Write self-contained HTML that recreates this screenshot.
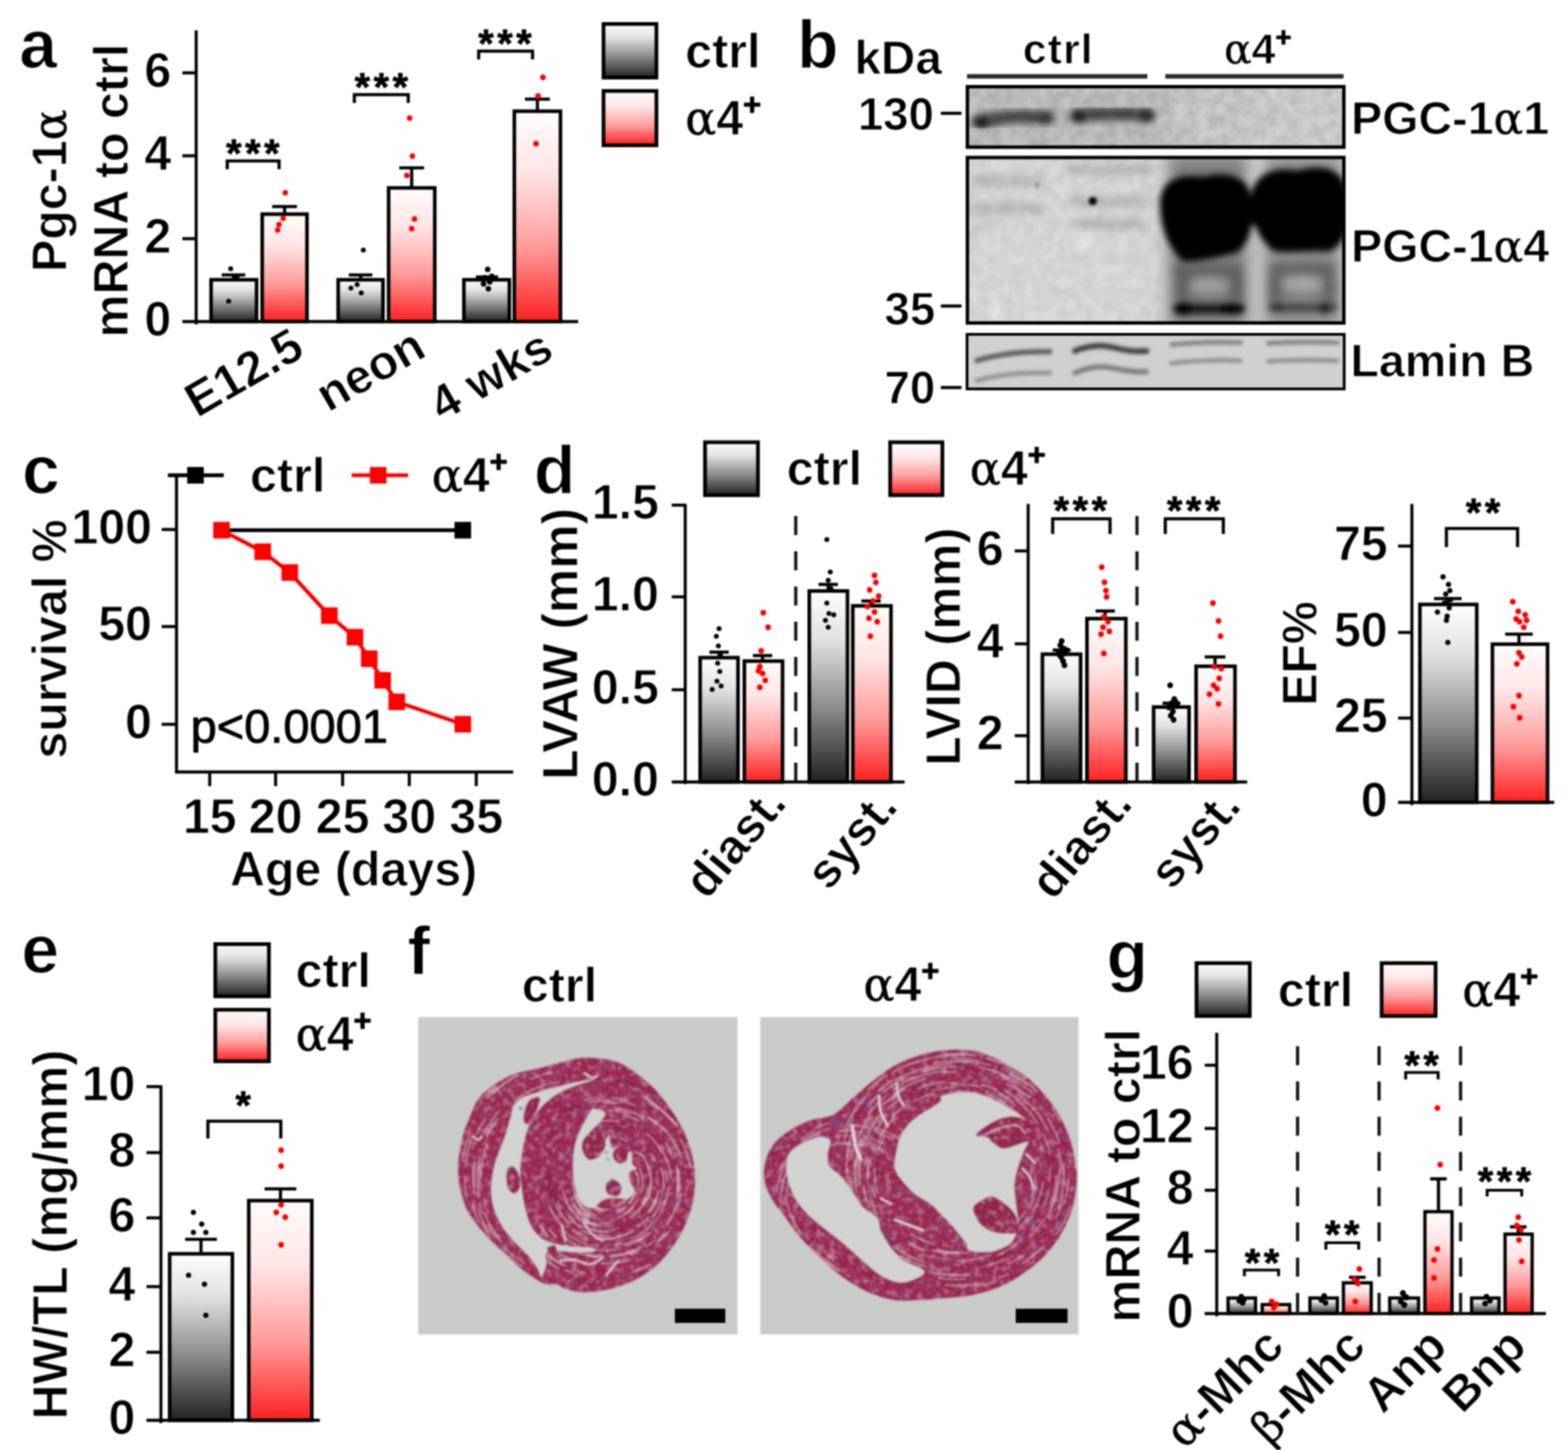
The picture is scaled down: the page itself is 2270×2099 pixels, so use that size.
<!DOCTYPE html>
<html lang="en"><head><meta charset="utf-8"><title>PGC-1α4 figure</title>
<style>
html,body{margin:0;padding:0;background:#fff;}
body{width:2270px;height:2099px;overflow:hidden;}
svg{display:block;filter:blur(0.9px);font-family:"Liberation Sans", Arial, Helvetica, sans-serif;font-weight:bold;fill:#000;}
text{stroke:#fff;stroke-width:1.1px;stroke-linejoin:round;}
text.pl{stroke-width:1.4px;}
</style></head><body>
<svg width="2270" height="2099" viewBox="0 0 2270 2099">
<defs>
<linearGradient id="gk" x1="0" y1="0" x2="0" y2="1"><stop offset="0" stop-color="#fdfdfd"/><stop offset="0.25" stop-color="#e2e2e2"/><stop offset="0.6" stop-color="#8e8e8e"/><stop offset="1" stop-color="#222"/></linearGradient>
<linearGradient id="gr" x1="0" y1="0" x2="0" y2="1"><stop offset="0" stop-color="#fffdfd"/><stop offset="0.3" stop-color="#ffe4e4"/><stop offset="0.65" stop-color="#ff9a9a"/><stop offset="1" stop-color="#ff2020"/></linearGradient>
<filter id="b2" x="-20%" y="-20%" width="140%" height="140%"><feGaussianBlur stdDeviation="2"/></filter>
<filter id="b3" x="-20%" y="-50%" width="140%" height="200%"><feGaussianBlur stdDeviation="2.6"/></filter>
<filter id="b5" x="-20%" y="-30%" width="140%" height="160%"><feGaussianBlur stdDeviation="5"/></filter>
<filter id="b6" x="-20%" y="-80%" width="140%" height="260%"><feGaussianBlur stdDeviation="6"/></filter>
<filter id="grain" x="0" y="0" width="100%" height="100%"><feTurbulence type="fractalNoise" baseFrequency="0.06" numOctaves="2" seed="4"/><feColorMatrix type="matrix" values="0 0 0 0 0  0 0 0 0 0  0 0 0 0 0  2.2 0 0 0 -0.6"/></filter>
<filter id="hb" x="-5%" y="-5%" width="110%" height="110%"><feGaussianBlur stdDeviation="1.1"/></filter>
<filter id="tex1" x="0" y="0" width="100%" height="100%"><feTurbulence type="fractalNoise" baseFrequency="0.22" numOctaves="2" seed="3" result="n"/><feColorMatrix in="n" type="matrix" values="0 0 0 0 0.93  0 0 0 0 0.86  0 0 0 0 0.9  7 0 0 0 -4.1" result="m"/><feComposite in="m" in2="SourceGraphic" operator="in"/></filter>
<filter id="tex2" x="0" y="0" width="100%" height="100%"><feTurbulence type="fractalNoise" baseFrequency="0.05 0.06" numOctaves="3" seed="9" result="n"/><feColorMatrix in="n" type="matrix" values="0 0 0 0 0.31  0 0 0 0 0.06  0 0 0 0 0.19  0 5 0 0 -2.3" result="m"/><feComposite in="m" in2="SourceGraphic" operator="in"/></filter>
<filter id="tex3" x="0" y="0" width="100%" height="100%"><feTurbulence type="fractalNoise" baseFrequency="0.11 0.12" numOctaves="3" seed="17" result="n"/><feColorMatrix in="n" type="matrix" values="0 0 0 0 0.79  0 0 0 0 0.63  0 0 0 0 0.71  0 0 6 0 -3.1" result="m"/><feComposite in="m" in2="SourceGraphic" operator="in"/></filter>
<filter id="b4" x="-20%" y="-50%" width="140%" height="200%"><feGaussianBlur stdDeviation="4"/></filter>
<filter id="b7" x="-20%" y="-30%" width="140%" height="160%"><feGaussianBlur stdDeviation="7"/></filter>
<filter id="b10" x="-20%" y="-30%" width="140%" height="160%"><feGaussianBlur stdDeviation="10"/></filter>
</defs>
<rect width="2270" height="2099" fill="#fff"/>

<g id="panel-a">
<text x="28" y="98" font-size="98" text-anchor="start" font-weight="bold" class="pl">a</text>
<text x="96" y="276" font-size="70" text-anchor="middle" font-weight="bold" transform="rotate(-90 96 276)">Pgc-1<tspan font-family='"DejaVu Serif", "Liberation Serif", serif' font-weight="normal" stroke="#000" stroke-width="0.56" font-size="66.5">α</tspan></text>
<text x="185" y="276" font-size="70" text-anchor="middle" font-weight="bold" transform="rotate(-90 185 276)">mRNA to ctrl</text>
<line x1="284" y1="44" x2="284" y2="469.5" stroke="#000" stroke-width="4.4"/>
<line x1="264" y1="465.5" x2="837" y2="465.5" stroke="#000" stroke-width="4.4"/>
<text x="248" y="485.5" font-size="70" text-anchor="end" font-weight="bold">0</text>
<line x1="264" y1="345.5" x2="284" y2="345.5" stroke="#000" stroke-width="4.4"/>
<text x="248" y="365.5" font-size="70" text-anchor="end" font-weight="bold">2</text>
<line x1="264" y1="225.5" x2="284" y2="225.5" stroke="#000" stroke-width="4.4"/>
<text x="248" y="245.5" font-size="70" text-anchor="end" font-weight="bold">4</text>
<line x1="264" y1="105.5" x2="284" y2="105.5" stroke="#000" stroke-width="4.4"/>
<text x="248" y="125.5" font-size="70" text-anchor="end" font-weight="bold">6</text>
<rect x="305.6" y="405.0" width="65.8" height="60.5" fill="url(#gk)" stroke="#000" stroke-width="5.2"/>
<rect x="379.6" y="310.0" width="64.8" height="155.5" fill="url(#gr)" stroke="#000" stroke-width="5.2"/>
<rect x="489.6" y="405.0" width="64.8" height="60.5" fill="url(#gk)" stroke="#000" stroke-width="5.2"/>
<rect x="562.6" y="272.0" width="66.8" height="193.5" fill="url(#gr)" stroke="#000" stroke-width="5.2"/>
<rect x="671.6" y="405.0" width="65.8" height="60.5" fill="url(#gk)" stroke="#000" stroke-width="5.2"/>
<rect x="744.6" y="161.0" width="66.8" height="304.5" fill="url(#gr)" stroke="#000" stroke-width="5.2"/>
<line x1="338" y1="398" x2="338" y2="405" stroke="#000" stroke-width="4.6"/>
<line x1="321" y1="398" x2="355" y2="398" stroke="#000" stroke-width="4.6"/>
<line x1="412" y1="299" x2="412" y2="310" stroke="#000" stroke-width="4.6"/>
<line x1="394" y1="299" x2="430" y2="299" stroke="#000" stroke-width="4.6"/>
<line x1="522" y1="398" x2="522" y2="405" stroke="#000" stroke-width="4.6"/>
<line x1="505" y1="398" x2="539" y2="398" stroke="#000" stroke-width="4.6"/>
<line x1="596" y1="243" x2="596" y2="272" stroke="#000" stroke-width="4.6"/>
<line x1="578" y1="243" x2="614" y2="243" stroke="#000" stroke-width="4.6"/>
<line x1="705" y1="401" x2="705" y2="405" stroke="#000" stroke-width="4.6"/>
<line x1="689" y1="401" x2="721" y2="401" stroke="#000" stroke-width="4.6"/>
<line x1="778" y1="143.5" x2="778" y2="161" stroke="#000" stroke-width="4.6"/>
<line x1="760" y1="143.5" x2="796" y2="143.5" stroke="#000" stroke-width="4.6"/>
<circle cx="334.0" cy="389.0" r="3.6" fill="#000"/>
<circle cx="331.0" cy="436.0" r="3.6" fill="#000"/>
<circle cx="343.0" cy="401.0" r="3.6" fill="#000"/>
<circle cx="413.0" cy="279.0" r="4" fill="#f00"/>
<circle cx="404.0" cy="325.0" r="4" fill="#f00"/>
<circle cx="402.0" cy="333.0" r="4" fill="#f00"/>
<circle cx="410.0" cy="316.0" r="4" fill="#f00"/>
<circle cx="526.0" cy="362.0" r="3.6" fill="#000"/>
<circle cx="508.0" cy="417.0" r="3.6" fill="#000"/>
<circle cx="523.0" cy="424.0" r="3.6" fill="#000"/>
<circle cx="517.0" cy="412.0" r="3.6" fill="#000"/>
<circle cx="593.0" cy="171.0" r="4" fill="#f00"/>
<circle cx="597.0" cy="226.0" r="4" fill="#f00"/>
<circle cx="589.0" cy="254.0" r="4" fill="#f00"/>
<circle cx="600.0" cy="317.0" r="4" fill="#f00"/>
<circle cx="596.0" cy="331.0" r="4" fill="#f00"/>
<circle cx="706.0" cy="390.0" r="4" fill="#000"/>
<circle cx="702.0" cy="402.0" r="4" fill="#000"/>
<circle cx="709.0" cy="408.0" r="4" fill="#000"/>
<circle cx="700.0" cy="411.0" r="4" fill="#000"/>
<circle cx="712.0" cy="400.0" r="4" fill="#000"/>
<circle cx="707.0" cy="418.0" r="4" fill="#000"/>
<circle cx="786.0" cy="112.0" r="4.2" fill="#f00"/>
<circle cx="779.0" cy="139.0" r="4.2" fill="#f00"/>
<circle cx="776.0" cy="208.0" r="4.2" fill="#f00"/>
<path d="M329 245 V233 H404 V245" fill="none" stroke="#000" stroke-width="4.6"/>
<text x="368.5" y="242" font-size="58" text-anchor="middle" font-weight="bold" letter-spacing="5" style="stroke:#000;stroke-width:0.8px">***</text>
<path d="M513 149 V137 H591 V149" fill="none" stroke="#000" stroke-width="4.6"/>
<text x="554.5" y="146" font-size="58" text-anchor="middle" font-weight="bold" letter-spacing="5" style="stroke:#000;stroke-width:0.8px">***</text>
<path d="M693 86 V74 H771 V86" fill="none" stroke="#000" stroke-width="4.6"/>
<text x="733.5" y="83" font-size="58" text-anchor="middle" font-weight="bold" letter-spacing="5" style="stroke:#000;stroke-width:0.8px">***</text>
<text x="444" y="514" font-size="70" text-anchor="end" font-weight="bold" transform="rotate(-30 444 514)">E12.5</text>
<text x="620" y="514" font-size="70" text-anchor="end" font-weight="bold" transform="rotate(-30 620 514)">neon</text>
<text x="805" y="516" font-size="70" text-anchor="end" font-weight="bold" transform="rotate(-30 805 516)">4 wks</text>
<rect x="873.7" y="34.7" width="76.6" height="77.6" fill="url(#gk)" stroke="#000" stroke-width="5.4"/>
<rect x="873.7" y="131.7" width="76.6" height="78.6" fill="url(#gr)" stroke="#000" stroke-width="5.4"/>
<text x="992" y="97.5" font-size="70" text-anchor="start" font-weight="bold">ctrl</text>
<text x="992" y="195" font-size="70" text-anchor="start" font-weight="bold"><tspan font-family='"DejaVu Serif", "Liberation Serif", serif' font-weight="normal" stroke="#000" stroke-width="0.56" font-size="66.5">α</tspan>4<tspan dy="-28.0" font-size="44.8" style="stroke:#000;stroke-width:1.2px">+</tspan></text>
</g>
<g id="panel-b">
<text x="1154" y="98" font-size="98" text-anchor="start" font-weight="bold" class="pl">b</text>
<text x="1237" y="106.5" font-size="69" text-anchor="start" font-weight="bold">kDa</text>
<text x="1532" y="91.5" font-size="62" text-anchor="middle" font-weight="bold" letter-spacing="1.5">ctrl</text>
<text x="1821" y="91.5" font-size="62" text-anchor="middle" font-weight="bold"><tspan font-family='"DejaVu Serif", "Liberation Serif", serif' font-weight="normal" stroke="#000" stroke-width="0.50" font-size="58.9">α</tspan>4<tspan dy="-24.8" font-size="39.7" style="stroke:#000;stroke-width:1.2px">+</tspan></text>
<line x1="1400" y1="110.5" x2="1661" y2="110.5" stroke="#2a2a2a" stroke-width="6.5"/>
<line x1="1687" y1="110.5" x2="1945" y2="110.5" stroke="#2a2a2a" stroke-width="6.5"/>
<text x="1352" y="188" font-size="66" text-anchor="end" font-weight="bold">130</text>
<line x1="1362" y1="164" x2="1392" y2="164" stroke="#000" stroke-width="4.5"/>
<text x="1354" y="469.5" font-size="66" text-anchor="end" font-weight="bold">35</text>
<line x1="1362" y1="443" x2="1392" y2="443" stroke="#000" stroke-width="4.5"/>
<text x="1354" y="584" font-size="66" text-anchor="end" font-weight="bold">70</text>
<line x1="1362" y1="561" x2="1392" y2="561" stroke="#000" stroke-width="4.5"/>
<text x="1956" y="194" font-size="67.5" text-anchor="start" font-weight="bold">PGC-1<tspan font-family='"DejaVu Serif", "Liberation Serif", serif' font-weight="normal" stroke="#000" stroke-width="0.54" font-size="63.6">α</tspan>1</text>
<text x="1956" y="379" font-size="67.5" text-anchor="start" font-weight="bold">PGC-1<tspan font-family='"DejaVu Serif", "Liberation Serif", serif' font-weight="normal" stroke="#000" stroke-width="0.54" font-size="63.6">α</tspan>4</text>
<text x="1955" y="545" font-size="67.5" text-anchor="start" font-weight="bold">Lamin B</text>
<clipPath id="c1"><rect x="1398" y="123" width="550" height="92"/></clipPath>
<rect x="1398" y="123" width="550" height="92" fill="#c4c4c4"/>
<g clip-path="url(#c1)">
<rect x="1700" y="110" width="270" height="120" fill="#cdcdcd" filter="url(#b10)"/>
<rect x="1820" y="110" width="150" height="120" fill="#d2d2d2" filter="url(#b10)"/>
<g filter="url(#b6)">
<path d="M1416 176 Q1470 166 1518 170" stroke="#5a5a5a" stroke-width="20" fill="none" stroke-linecap="round"/>
<path d="M1558 167 Q1610 163 1662 167" stroke="#5a5a5a" stroke-width="20" fill="none" stroke-linecap="round"/>
</g><g filter="url(#b4)">
<ellipse cx="1422" cy="177" rx="11" ry="8" fill="#222"/><ellipse cx="1512" cy="171" rx="10" ry="7" fill="#3a3a3a"/>
<ellipse cx="1562" cy="168" rx="10" ry="8" fill="#222"/><ellipse cx="1660" cy="167" rx="10" ry="8" fill="#333"/>
<path d="M1432 174 Q1470 167 1505 170 M1572 166 Q1610 163 1650 166" stroke="#444" stroke-width="8" fill="none"/>
</g>
<rect x="1398" y="123" width="550" height="92" filter="url(#grain)" opacity="0.10"/>
</g>
<rect x="1400.5" y="125.5" width="545" height="87.5" fill="none" stroke="#000" stroke-width="5"/>
<clipPath id="c2"><rect x="1398" y="226" width="550" height="243"/></clipPath>
<rect x="1398" y="226" width="550" height="243" fill="#dadada"/>
<g clip-path="url(#c2)">
<g filter="url(#b10)">
<rect x="1680" y="215" width="280" height="270" fill="#c2c2c2"/>
<rect x="1692" y="226" width="114" height="250" fill="#7c7c7c"/>
<rect x="1832" y="226" width="108" height="250" fill="#8a8a8a"/>
<rect x="1810" y="226" width="16" height="60" fill="#d0d0d0"/>
</g>
<g filter="url(#b7)">
<path d="M1408 262 H1512 M1404 302 H1512 M1545 246 H1668 M1550 292 H1665 M1552 325 H1660" stroke="#b4b4b4" stroke-width="13" fill="none"/>
<ellipse cx="1420" cy="330" rx="14" ry="10" fill="#cccccc"/>
<ellipse cx="1570" cy="345" rx="12" ry="12" fill="#ececec"/>
<ellipse cx="1440" cy="455" rx="10" ry="10" fill="#e8e8e8"/>
<path d="M1700 392 H1798 M1838 390 H1932" stroke="#5e5e5e" stroke-width="16" fill="none"/>
<ellipse cx="1750" cy="418" rx="26" ry="16" fill="#a2a2a2"/><ellipse cx="1886" cy="416" rx="26" ry="16" fill="#a8a8a8"/>
<path d="M1712 400 V440 M1790 400 V440 M1846 400 V440 M1924 400 V440" stroke="#5c5c5c" stroke-width="16" fill="none"/>
<path d="M1708 428 H1794 M1844 426 H1928" stroke="#686868" stroke-width="8" fill="none"/>
</g>
<g filter="url(#b5)">
<path d="M1680 305 C1676 268 1696 250 1742 256 C1780 246 1812 258 1811 292 C1815 330 1808 352 1790 366 C1760 372 1735 380 1712 378 C1692 356 1682 335 1680 305 Z" fill="#000"/>
<path d="M1811 292 C1810 256 1838 240 1880 247 C1920 234 1952 250 1952 290 C1954 330 1948 352 1925 364 C1900 362 1870 366 1845 364 C1822 346 1812 322 1811 292 Z" fill="#000"/>
<rect x="1800" y="290" width="22" height="36" fill="#000"/>
<path d="M1708 447 H1796" stroke="#111" stroke-width="13" stroke-linecap="round" fill="none"/>
<ellipse cx="1713" cy="447" rx="14" ry="9" fill="#000"/><ellipse cx="1782" cy="447" rx="15" ry="8" fill="#000"/>
<path d="M1842 445 H1930" stroke="#444" stroke-width="12" stroke-linecap="round" fill="none"/>
<ellipse cx="1918" cy="446" rx="9" ry="8" fill="#222"/><ellipse cx="1850" cy="445" rx="9" ry="7" fill="#333"/>
</g>
<circle cx="1582" cy="291" r="6" fill="#000" filter="url(#b2)"/>
<circle cx="1501" cy="268" r="3.5" fill="#999" filter="url(#b2)"/>
<rect x="1398" y="226" width="282" height="243" filter="url(#grain)" opacity="0.05"/>
</g>
<rect x="1400.5" y="228" width="545" height="239.5" fill="none" stroke="#000" stroke-width="5"/>
<clipPath id="c3"><rect x="1398" y="482" width="550" height="83"/></clipPath>
<rect x="1398" y="482" width="550" height="83" fill="#d0d0d0"/>
<g clip-path="url(#c3)"><g filter="url(#b3)" fill="none" stroke-linecap="round">
<path d="M1414 522 Q1460 508 1520 509" stroke="#555" stroke-width="7"/>
<path d="M1414 551 Q1460 538 1520 540" stroke="#8a8a8a" stroke-width="6"/>
<path d="M1556 508 Q1585 496 1612 503 T1660 508" stroke="#3a3a3a" stroke-width="8"/>
<path d="M1556 540 Q1585 527 1612 533 T1660 538" stroke="#777" stroke-width="7"/>
<path d="M1696 499 Q1740 494 1796 496" stroke="#7a7a7a" stroke-width="6"/>
<path d="M1696 526 Q1740 520 1796 522" stroke="#8a8a8a" stroke-width="6"/>
<path d="M1836 497 Q1880 494 1936 496" stroke="#7a7a7a" stroke-width="6"/>
<path d="M1836 523 Q1880 520 1936 522" stroke="#888" stroke-width="6"/>
</g></g>
<rect x="1400" y="484" width="546" height="79" fill="none" stroke="#000" stroke-width="4"/>
</g>
<g id="panel-c">
<text x="32" y="714" font-size="98" text-anchor="start" font-weight="bold" class="pl">c</text>
<text x="96" y="925" font-size="70" text-anchor="middle" font-weight="bold" transform="rotate(-90 96 925)">survival %</text>
<line x1="255.5" y1="690" x2="255.5" y2="1119.5" stroke="#000" stroke-width="4.4"/>
<line x1="254.0" y1="1117.5" x2="743" y2="1117.5" stroke="#000" stroke-width="4.4"/>
<line x1="234" y1="766.5" x2="255.5" y2="766.5" stroke="#000" stroke-width="4.4"/>
<text x="220" y="786.5" font-size="70" text-anchor="end" font-weight="bold">100</text>
<line x1="234" y1="907" x2="255.5" y2="907" stroke="#000" stroke-width="4.4"/>
<text x="220" y="927" font-size="70" text-anchor="end" font-weight="bold">50</text>
<line x1="234" y1="1048.5" x2="255.5" y2="1048.5" stroke="#000" stroke-width="4.4"/>
<text x="220" y="1068.5" font-size="70" text-anchor="end" font-weight="bold">0</text>
<line x1="303.6" y1="1117.5" x2="303.6" y2="1138" stroke="#000" stroke-width="4.4"/>
<text x="303.6" y="1205.5" font-size="70" text-anchor="middle" font-weight="bold">15</text>
<line x1="399" y1="1117.5" x2="399" y2="1138" stroke="#000" stroke-width="4.4"/>
<text x="399" y="1205.5" font-size="70" text-anchor="middle" font-weight="bold">20</text>
<line x1="496" y1="1117.5" x2="496" y2="1138" stroke="#000" stroke-width="4.4"/>
<text x="496" y="1205.5" font-size="70" text-anchor="middle" font-weight="bold">25</text>
<line x1="592.5" y1="1117.5" x2="592.5" y2="1138" stroke="#000" stroke-width="4.4"/>
<text x="592.5" y="1205.5" font-size="70" text-anchor="middle" font-weight="bold">30</text>
<line x1="689.5" y1="1117.5" x2="689.5" y2="1138" stroke="#000" stroke-width="4.4"/>
<text x="689.5" y="1205.5" font-size="70" text-anchor="middle" font-weight="bold">35</text>
<text x="512" y="1281.5" font-size="70" text-anchor="middle" font-weight="bold">Age (days)</text>
<text x="276" y="1075" font-size="68" text-anchor="start" font-weight="normal" style="stroke:#000;stroke-width:1.2px">p&lt;0.0001</text>
<line x1="243" y1="688" x2="324" y2="688" stroke="#000" stroke-width="5.5"/>
<rect x="271.0" y="676.0" width="24.0" height="24.0" fill="#000" stroke="#000" stroke-width="0"/>
<text x="362" y="711.5" font-size="70" text-anchor="start" font-weight="bold">ctrl</text>
<line x1="509" y1="688" x2="591" y2="688" stroke="#f00" stroke-width="5.5"/>
<rect x="535.5" y="676.0" width="24.0" height="24.0" fill="#f00" stroke="#000" stroke-width="0"/>
<text x="625" y="711.5" font-size="70" text-anchor="start" font-weight="bold"><tspan font-family='"DejaVu Serif", "Liberation Serif", serif' font-weight="normal" stroke="#000" stroke-width="0.56" font-size="66.5">α</tspan>4<tspan dy="-28.0" font-size="44.8" style="stroke:#000;stroke-width:1.2px">+</tspan></text>
<line x1="321" y1="767.5" x2="670" y2="767.5" stroke="#000" stroke-width="5.5"/>
<rect x="658.0" y="755.5" width="24.0" height="24.0" fill="#000" stroke="#000" stroke-width="0"/>
<polyline points="320.7,767.5 380.4,798.7 419.5,828.8 476.8,891.2 513.9,922.4 534.6,953.6 554,984.8 574.4,1016 670,1048.4" fill="none" stroke="#f00" stroke-width="5.5"/>
<rect x="308.7" y="755.5" width="24.0" height="24.0" fill="#f00" stroke="#000" stroke-width="0"/>
<rect x="368.4" y="786.7" width="24.0" height="24.0" fill="#f00" stroke="#000" stroke-width="0"/>
<rect x="407.5" y="816.8" width="24.0" height="24.0" fill="#f00" stroke="#000" stroke-width="0"/>
<rect x="464.8" y="879.2" width="24.0" height="24.0" fill="#f00" stroke="#000" stroke-width="0"/>
<rect x="501.9" y="910.4" width="24.0" height="24.0" fill="#f00" stroke="#000" stroke-width="0"/>
<rect x="522.6" y="941.6" width="24.0" height="24.0" fill="#f00" stroke="#000" stroke-width="0"/>
<rect x="542.0" y="972.8" width="24.0" height="24.0" fill="#f00" stroke="#000" stroke-width="0"/>
<rect x="562.4" y="1004.0" width="24.0" height="24.0" fill="#f00" stroke="#000" stroke-width="0"/>
<rect x="658.0" y="1036.4" width="24.0" height="24.0" fill="#f00" stroke="#000" stroke-width="0"/>
</g>
<g id="panel-d">
<text x="773" y="713.5" font-size="98" text-anchor="start" font-weight="bold" class="pl">d</text>
<rect x="1020.7" y="640.2" width="76.6" height="76.6" fill="url(#gk)" stroke="#000" stroke-width="5.4"/>
<rect x="1288.7" y="640.2" width="75.6" height="76.6" fill="url(#gr)" stroke="#000" stroke-width="5.4"/>
<text x="1139" y="702" font-size="70" text-anchor="start" font-weight="bold">ctrl</text>
<text x="1404" y="702" font-size="70" text-anchor="start" font-weight="bold"><tspan font-family='"DejaVu Serif", "Liberation Serif", serif' font-weight="normal" stroke="#000" stroke-width="0.56" font-size="66.5">α</tspan>4<tspan dy="-28.0" font-size="44.8" style="stroke:#000;stroke-width:1.2px">+</tspan></text>
<text x="836" y="932" font-size="72" text-anchor="middle" font-weight="bold" transform="rotate(-90 836 932)">LVAW (mm)</text>
<line x1="992" y1="729.5" x2="992" y2="1135" stroke="#000" stroke-width="4.4"/>
<line x1="972.5" y1="1132" x2="1309.5" y2="1132" stroke="#000" stroke-width="4.4"/>
<line x1="972.5" y1="731.2" x2="992" y2="731.2" stroke="#000" stroke-width="4.4"/>
<text x="954" y="751.2" font-size="70" text-anchor="end" font-weight="bold">1.5</text>
<line x1="972.5" y1="864" x2="992" y2="864" stroke="#000" stroke-width="4.4"/>
<text x="954" y="884" font-size="70" text-anchor="end" font-weight="bold">1.0</text>
<line x1="972.5" y1="998.5" x2="992" y2="998.5" stroke="#000" stroke-width="4.4"/>
<text x="954" y="1018.5" font-size="70" text-anchor="end" font-weight="bold">0.5</text>
<text x="954" y="1152" font-size="70" text-anchor="end" font-weight="bold">0.0</text>
<rect x="1013.6" y="952.0" width="54.8" height="180.0" fill="url(#gk)" stroke="#000" stroke-width="5.2"/>
<rect x="1077.6" y="957.0" width="55.3" height="175.0" fill="url(#gr)" stroke="#000" stroke-width="5.2"/>
<rect x="1171.6" y="855.5" width="55.3" height="276.5" fill="url(#gk)" stroke="#000" stroke-width="5.2"/>
<rect x="1234.6" y="877.0" width="55.3" height="255.0" fill="url(#gr)" stroke="#000" stroke-width="5.2"/>
<line x1="1152" y1="747" x2="1152" y2="1130" stroke="#111" stroke-width="4.6" stroke-dasharray="27.5 23.5"/>
<line x1="1041" y1="944" x2="1041" y2="952" stroke="#000" stroke-width="4.6"/>
<line x1="1027" y1="944" x2="1055" y2="944" stroke="#000" stroke-width="4.6"/>
<line x1="1104" y1="949" x2="1104" y2="957" stroke="#000" stroke-width="4.6"/>
<line x1="1090" y1="949" x2="1118" y2="949" stroke="#000" stroke-width="4.6"/>
<line x1="1199" y1="846" x2="1199" y2="855" stroke="#000" stroke-width="4.6"/>
<line x1="1185" y1="846" x2="1213" y2="846" stroke="#000" stroke-width="4.6"/>
<line x1="1261" y1="870" x2="1261" y2="877" stroke="#000" stroke-width="4.6"/>
<line x1="1247" y1="870" x2="1275" y2="870" stroke="#000" stroke-width="4.6"/>
<circle cx="1041.0" cy="910.0" r="3.6" fill="#000"/>
<circle cx="1037.0" cy="921.0" r="3.6" fill="#000"/>
<circle cx="1040.0" cy="935.0" r="3.6" fill="#000"/>
<circle cx="1043.0" cy="947.0" r="3.6" fill="#000"/>
<circle cx="1039.0" cy="960.0" r="3.6" fill="#000"/>
<circle cx="1042.0" cy="972.0" r="3.6" fill="#000"/>
<circle cx="1031.0" cy="998.0" r="3.6" fill="#000"/>
<circle cx="1044.0" cy="993.0" r="3.6" fill="#000"/>
<circle cx="1038.0" cy="986.0" r="3.6" fill="#000"/>
<circle cx="1105.0" cy="887.0" r="4.2" fill="#f00"/>
<circle cx="1112.0" cy="908.0" r="4.2" fill="#f00"/>
<circle cx="1102.0" cy="942.0" r="4.2" fill="#f00"/>
<circle cx="1100.0" cy="965.0" r="4.2" fill="#f00"/>
<circle cx="1104.0" cy="975.0" r="4.2" fill="#f00"/>
<circle cx="1108.0" cy="985.0" r="4.2" fill="#f00"/>
<circle cx="1100.0" cy="995.0" r="4.2" fill="#f00"/>
<circle cx="1098.0" cy="971.0" r="4.2" fill="#f00"/>
<circle cx="1197.0" cy="781.0" r="3.6" fill="#000"/>
<circle cx="1202.0" cy="828.0" r="3.6" fill="#000"/>
<circle cx="1199.0" cy="840.0" r="3.6" fill="#000"/>
<circle cx="1203.0" cy="852.0" r="3.6" fill="#000"/>
<circle cx="1197.0" cy="873.0" r="3.6" fill="#000"/>
<circle cx="1200.0" cy="888.0" r="3.6" fill="#000"/>
<circle cx="1195.0" cy="898.0" r="3.6" fill="#000"/>
<circle cx="1199.0" cy="908.0" r="3.6" fill="#000"/>
<circle cx="1207.0" cy="890.0" r="3.6" fill="#000"/>
<circle cx="1266.0" cy="833.0" r="4.2" fill="#f00"/>
<circle cx="1268.0" cy="843.0" r="4.2" fill="#f00"/>
<circle cx="1259.0" cy="854.0" r="4.2" fill="#f00"/>
<circle cx="1272.0" cy="863.0" r="4.2" fill="#f00"/>
<circle cx="1256.0" cy="878.0" r="4.2" fill="#f00"/>
<circle cx="1266.0" cy="886.0" r="4.2" fill="#f00"/>
<circle cx="1258.0" cy="895.0" r="4.2" fill="#f00"/>
<circle cx="1270.0" cy="900.0" r="4.2" fill="#f00"/>
<circle cx="1260.0" cy="921.0" r="4.2" fill="#f00"/>
<circle cx="1264.0" cy="870.0" r="4.2" fill="#f00"/>
<text x="1141" y="1164" font-size="70" text-anchor="end" font-weight="bold" transform="rotate(-50 1141 1164)">diast.</text>
<text x="1302" y="1169" font-size="70" text-anchor="end" font-weight="bold" transform="rotate(-50 1302 1169)">syst.</text>
<text x="1390" y="936" font-size="70" text-anchor="middle" font-weight="bold" transform="rotate(-90 1390 936)">LVID (mm)</text>
<line x1="1488.5" y1="729.5" x2="1488.5" y2="1135" stroke="#000" stroke-width="4.4"/>
<line x1="1469" y1="1132" x2="1805.5" y2="1132" stroke="#000" stroke-width="4.4"/>
<line x1="1469" y1="797.5" x2="1488.5" y2="797.5" stroke="#000" stroke-width="4.4"/>
<text x="1453" y="817.5" font-size="70" text-anchor="end" font-weight="bold">6</text>
<line x1="1469" y1="932" x2="1488.5" y2="932" stroke="#000" stroke-width="4.4"/>
<text x="1453" y="952" font-size="70" text-anchor="end" font-weight="bold">4</text>
<line x1="1469" y1="1065" x2="1488.5" y2="1065" stroke="#000" stroke-width="4.4"/>
<text x="1453" y="1085" font-size="70" text-anchor="end" font-weight="bold">2</text>
<rect x="1509.1" y="947.0" width="55.3" height="185.0" fill="url(#gk)" stroke="#000" stroke-width="5.2"/>
<rect x="1573.6" y="895.5" width="56.3" height="236.5" fill="url(#gr)" stroke="#000" stroke-width="5.2"/>
<rect x="1670.1" y="1023.5" width="51.3" height="108.5" fill="url(#gk)" stroke="#000" stroke-width="5.2"/>
<rect x="1731.6" y="964.5" width="56.3" height="167.5" fill="url(#gr)" stroke="#000" stroke-width="5.2"/>
<line x1="1646" y1="747" x2="1646" y2="1130" stroke="#111" stroke-width="4.6" stroke-dasharray="27.5 23.5"/>
<line x1="1537" y1="941" x2="1537" y2="947" stroke="#000" stroke-width="4.6"/>
<line x1="1524" y1="941" x2="1550" y2="941" stroke="#000" stroke-width="4.6"/>
<line x1="1600" y1="884.5" x2="1600" y2="895.5" stroke="#000" stroke-width="4.6"/>
<line x1="1586" y1="884.5" x2="1614" y2="884.5" stroke="#000" stroke-width="4.6"/>
<line x1="1696" y1="1018" x2="1696" y2="1023.5" stroke="#000" stroke-width="4.6"/>
<line x1="1683" y1="1018" x2="1709" y2="1018" stroke="#000" stroke-width="4.6"/>
<line x1="1759" y1="951" x2="1759" y2="964.5" stroke="#000" stroke-width="4.6"/>
<line x1="1744" y1="951" x2="1774" y2="951" stroke="#000" stroke-width="4.6"/>
<circle cx="1537.0" cy="928.0" r="4.2" fill="#000"/>
<circle cx="1535.0" cy="934.0" r="4.2" fill="#000"/>
<circle cx="1540.0" cy="939.0" r="4.2" fill="#000"/>
<circle cx="1533.0" cy="944.0" r="4.2" fill="#000"/>
<circle cx="1542.0" cy="946.0" r="4.2" fill="#000"/>
<circle cx="1536.0" cy="951.0" r="4.2" fill="#000"/>
<circle cx="1539.0" cy="957.0" r="4.2" fill="#000"/>
<circle cx="1541.0" cy="963.0" r="4.2" fill="#000"/>
<circle cx="1538.0" cy="940.0" r="4.2" fill="#000"/>
<circle cx="1534.0" cy="948.0" r="4.2" fill="#000"/>
<circle cx="1544.0" cy="941.0" r="4.2" fill="#000"/>
<circle cx="1595.0" cy="821.0" r="4.2" fill="#f00"/>
<circle cx="1599.0" cy="843.0" r="4.2" fill="#f00"/>
<circle cx="1601.0" cy="855.0" r="4.2" fill="#f00"/>
<circle cx="1602.0" cy="864.0" r="4.2" fill="#f00"/>
<circle cx="1598.0" cy="893.0" r="4.2" fill="#f00"/>
<circle cx="1604.0" cy="900.0" r="4.2" fill="#f00"/>
<circle cx="1597.0" cy="908.0" r="4.2" fill="#f00"/>
<circle cx="1606.0" cy="914.0" r="4.2" fill="#f00"/>
<circle cx="1594.0" cy="918.0" r="4.2" fill="#f00"/>
<circle cx="1598.0" cy="946.0" r="4.2" fill="#f00"/>
<circle cx="1694.0" cy="992.0" r="4.2" fill="#000"/>
<circle cx="1700.0" cy="1012.0" r="4.2" fill="#000"/>
<circle cx="1696.0" cy="1018.0" r="4.2" fill="#000"/>
<circle cx="1703.0" cy="1022.0" r="4.2" fill="#000"/>
<circle cx="1692.0" cy="1024.0" r="4.2" fill="#000"/>
<circle cx="1698.0" cy="1030.0" r="4.2" fill="#000"/>
<circle cx="1695.0" cy="1036.0" r="4.2" fill="#000"/>
<circle cx="1699.0" cy="1042.0" r="4.2" fill="#000"/>
<circle cx="1702.0" cy="1016.0" r="4.2" fill="#000"/>
<circle cx="1756.0" cy="873.0" r="4.2" fill="#f00"/>
<circle cx="1764.0" cy="899.0" r="4.2" fill="#f00"/>
<circle cx="1767.0" cy="921.0" r="4.2" fill="#f00"/>
<circle cx="1758.0" cy="965.0" r="4.2" fill="#f00"/>
<circle cx="1765.0" cy="982.0" r="4.2" fill="#f00"/>
<circle cx="1757.0" cy="992.0" r="4.2" fill="#f00"/>
<circle cx="1762.0" cy="997.0" r="4.2" fill="#f00"/>
<circle cx="1751.0" cy="1005.0" r="4.2" fill="#f00"/>
<circle cx="1764.0" cy="1019.0" r="4.2" fill="#f00"/>
<circle cx="1768.0" cy="968.0" r="4.2" fill="#f00"/>
<path d="M1524 773 V751 H1607 V773" fill="none" stroke="#000" stroke-width="4.6"/>
<text x="1566.5" y="759" font-size="58" text-anchor="middle" font-weight="bold" letter-spacing="5" style="stroke:#000;stroke-width:0.8px">***</text>
<path d="M1687 773 V751 H1771 V773" fill="none" stroke="#000" stroke-width="4.6"/>
<text x="1730.5" y="759" font-size="58" text-anchor="middle" font-weight="bold" letter-spacing="5" style="stroke:#000;stroke-width:0.8px">***</text>
<text x="1642" y="1165" font-size="70" text-anchor="end" font-weight="bold" transform="rotate(-50 1642 1165)">diast.</text>
<text x="1799" y="1168" font-size="70" text-anchor="end" font-weight="bold" transform="rotate(-50 1799 1168)">syst.</text>
<text x="1906" y="946" font-size="70" text-anchor="middle" font-weight="bold" transform="rotate(-90 1906 946)">EF%</text>
<line x1="2044" y1="729.5" x2="2044" y2="1165.5" stroke="#000" stroke-width="4.4"/>
<line x1="2024" y1="1161.5" x2="2250" y2="1161.5" stroke="#000" stroke-width="4.4"/>
<line x1="2024" y1="790.5" x2="2044" y2="790.5" stroke="#000" stroke-width="4.4"/>
<text x="2009" y="810.5" font-size="70" text-anchor="end" font-weight="bold">75</text>
<line x1="2024" y1="915.5" x2="2044" y2="915.5" stroke="#000" stroke-width="4.4"/>
<text x="2009" y="935.5" font-size="70" text-anchor="end" font-weight="bold">50</text>
<line x1="2024" y1="1039.5" x2="2044" y2="1039.5" stroke="#000" stroke-width="4.4"/>
<text x="2009" y="1059.5" font-size="70" text-anchor="end" font-weight="bold">25</text>
<text x="2009" y="1181.5" font-size="70" text-anchor="end" font-weight="bold">0</text>
<rect x="2055.6" y="875.0" width="82.3" height="286.5" fill="url(#gk)" stroke="#000" stroke-width="5.2"/>
<rect x="2160.6" y="932.5" width="79.8" height="229.0" fill="url(#gr)" stroke="#000" stroke-width="5.2"/>
<line x1="2096" y1="866.5" x2="2096" y2="875" stroke="#000" stroke-width="4.6"/>
<line x1="2076" y1="866.5" x2="2116" y2="866.5" stroke="#000" stroke-width="4.6"/>
<line x1="2199" y1="918" x2="2199" y2="932.5" stroke="#000" stroke-width="4.6"/>
<line x1="2179" y1="918" x2="2219" y2="918" stroke="#000" stroke-width="4.6"/>
<circle cx="2089.0" cy="835.0" r="3.8" fill="#000"/>
<circle cx="2097.0" cy="846.0" r="3.8" fill="#000"/>
<circle cx="2093.0" cy="860.0" r="3.8" fill="#000"/>
<circle cx="2100.0" cy="868.0" r="3.8" fill="#000"/>
<circle cx="2091.0" cy="873.0" r="3.8" fill="#000"/>
<circle cx="2098.0" cy="880.0" r="3.8" fill="#000"/>
<circle cx="2081.0" cy="886.0" r="3.8" fill="#000"/>
<circle cx="2095.0" cy="892.0" r="3.8" fill="#000"/>
<circle cx="2096.0" cy="930.0" r="3.8" fill="#000"/>
<circle cx="2099.0" cy="855.0" r="3.8" fill="#000"/>
<circle cx="2094.0" cy="898.0" r="3.8" fill="#000"/>
<circle cx="2190.0" cy="871.0" r="4.2" fill="#f00"/>
<circle cx="2198.0" cy="885.0" r="4.2" fill="#f00"/>
<circle cx="2195.0" cy="896.0" r="4.2" fill="#f00"/>
<circle cx="2200.0" cy="900.0" r="4.2" fill="#f00"/>
<circle cx="2210.0" cy="898.0" r="4.2" fill="#f00"/>
<circle cx="2206.0" cy="908.0" r="4.2" fill="#f00"/>
<circle cx="2199.0" cy="945.0" r="4.2" fill="#f00"/>
<circle cx="2203.0" cy="951.0" r="4.2" fill="#f00"/>
<circle cx="2196.0" cy="961.0" r="4.2" fill="#f00"/>
<circle cx="2199.0" cy="1007.0" r="4.2" fill="#f00"/>
<circle cx="2191.0" cy="1023.0" r="4.2" fill="#f00"/>
<circle cx="2200.0" cy="1039.0" r="4.2" fill="#f00"/>
<circle cx="2208.0" cy="890.0" r="4.2" fill="#f00"/>
<path d="M2094 792 V765 H2197 V792" fill="none" stroke="#000" stroke-width="4.6"/>
<text x="2149.5" y="762" font-size="58" text-anchor="middle" font-weight="bold" letter-spacing="5" style="stroke:#000;stroke-width:0.8px">**</text>
</g>
<g id="panel-e">
<text x="31" y="1408" font-size="98" text-anchor="start" font-weight="bold" class="pl">e</text>
<rect x="311.7" y="1366.7" width="77.6" height="75.6" fill="url(#gk)" stroke="#000" stroke-width="5.4"/>
<rect x="311.7" y="1461.7" width="77.6" height="74.6" fill="url(#gr)" stroke="#000" stroke-width="5.4"/>
<text x="428" y="1428.5" font-size="70" text-anchor="start" font-weight="bold">ctrl</text>
<text x="428" y="1520.5" font-size="70" text-anchor="start" font-weight="bold"><tspan font-family='"DejaVu Serif", "Liberation Serif", serif' font-weight="normal" stroke="#000" stroke-width="0.56" font-size="66.5">α</tspan>4<tspan dy="-28.0" font-size="44.8" style="stroke:#000;stroke-width:1.2px">+</tspan></text>
<text x="96.5" y="1787" font-size="70" text-anchor="middle" font-weight="bold" transform="rotate(-90 96.5 1787)">HW/TL (mg/mm)</text>
<line x1="233" y1="1571" x2="233" y2="2060" stroke="#000" stroke-width="4.4"/>
<line x1="212" y1="2056" x2="463" y2="2056" stroke="#000" stroke-width="4.4"/>
<line x1="212" y1="1573" x2="233" y2="1573" stroke="#000" stroke-width="4.4"/>
<text x="196" y="1593" font-size="70" text-anchor="end" font-weight="bold">10</text>
<line x1="212" y1="1668.5" x2="233" y2="1668.5" stroke="#000" stroke-width="4.4"/>
<text x="196" y="1688.5" font-size="70" text-anchor="end" font-weight="bold">8</text>
<line x1="212" y1="1763" x2="233" y2="1763" stroke="#000" stroke-width="4.4"/>
<text x="196" y="1783" font-size="70" text-anchor="end" font-weight="bold">6</text>
<line x1="212" y1="1862.5" x2="233" y2="1862.5" stroke="#000" stroke-width="4.4"/>
<text x="196" y="1882.5" font-size="70" text-anchor="end" font-weight="bold">4</text>
<line x1="212" y1="1957.5" x2="233" y2="1957.5" stroke="#000" stroke-width="4.4"/>
<text x="196" y="1977.5" font-size="70" text-anchor="end" font-weight="bold">2</text>
<text x="196" y="2076" font-size="70" text-anchor="end" font-weight="bold">0</text>
<rect x="245.6" y="1815.0" width="90.8" height="241.0" fill="url(#gk)" stroke="#000" stroke-width="5.2"/>
<rect x="360.1" y="1738.0" width="91.3" height="318.0" fill="url(#gr)" stroke="#000" stroke-width="5.2"/>
<line x1="291" y1="1794" x2="291" y2="1815" stroke="#000" stroke-width="4.6"/>
<line x1="268" y1="1794" x2="314" y2="1794" stroke="#000" stroke-width="4.6"/>
<line x1="406" y1="1721" x2="406" y2="1738" stroke="#000" stroke-width="4.6"/>
<line x1="383" y1="1721" x2="429" y2="1721" stroke="#000" stroke-width="4.6"/>
<circle cx="280.0" cy="1755.0" r="3.8" fill="#000"/>
<circle cx="292.0" cy="1772.0" r="3.8" fill="#000"/>
<circle cx="280.0" cy="1784.0" r="3.8" fill="#000"/>
<circle cx="298.0" cy="1784.0" r="3.8" fill="#000"/>
<circle cx="273.0" cy="1846.0" r="3.8" fill="#000"/>
<circle cx="296.0" cy="1859.0" r="3.8" fill="#000"/>
<circle cx="298.0" cy="1904.0" r="3.8" fill="#000"/>
<circle cx="407.0" cy="1665.0" r="4.2" fill="#f00"/>
<circle cx="407.0" cy="1688.0" r="4.2" fill="#f00"/>
<circle cx="407.0" cy="1744.0" r="4.2" fill="#f00"/>
<circle cx="400.0" cy="1755.0" r="4.2" fill="#f00"/>
<circle cx="413.0" cy="1762.0" r="4.2" fill="#f00"/>
<circle cx="407.0" cy="1802.0" r="4.2" fill="#f00"/>
<path d="M301 1648 V1623 H406.5 V1648" fill="none" stroke="#000" stroke-width="4.6"/>
<text x="354.5" y="1620" font-size="58" text-anchor="middle" font-weight="bold" letter-spacing="5" style="stroke:#000;stroke-width:0.8px">*</text>
</g>
<g id="panel-f">
<text x="590" y="1410" font-size="98" text-anchor="start" font-weight="bold" class="pl">f</text>
<text x="810" y="1450" font-size="70" text-anchor="middle" font-weight="bold">ctrl</text>
<text x="1305" y="1449" font-size="70" text-anchor="middle" font-weight="bold"><tspan font-family='"DejaVu Serif", "Liberation Serif", serif' font-weight="normal" stroke="#000" stroke-width="0.56" font-size="66.5">α</tspan>4<tspan dy="-28.0" font-size="44.8" style="stroke:#000;stroke-width:1.2px">+</tspan></text>
<rect x="605" y="1472" width="463" height="460" fill="#c9cbc8"/>
<rect x="1100.5" y="1472" width="461" height="460" fill="#c9cbc8"/>
<rect x="605.5" y="1472.5" width="462" height="459" fill="none" stroke="#dcdedb" stroke-width="1.5"/>
<rect x="1101" y="1472.5" width="460" height="459" fill="none" stroke="#dcdedb" stroke-width="1.5"/>
<clipPath id="h1c"><path d="M857.0 1531.3C866.9 1532.3 882.7 1532.8 895.6 1538.3C908.4 1543.7 922.6 1554.1 934.1 1564.0C945.7 1573.8 955.6 1584.7 965.0 1597.4C974.4 1610.0 984.2 1625.4 990.7 1639.8C997.2 1654.1 1001.6 1669.8 1004.1 1683.5C1006.5 1697.2 1006.8 1709.2 1005.6 1722.0C1004.4 1734.9 1001.7 1747.7 997.1 1760.6C992.5 1773.4 985.3 1787.6 977.8 1799.1C970.3 1810.7 961.6 1821.2 952.1 1830.0C942.7 1838.8 932.9 1845.8 921.3 1851.8C909.7 1857.8 895.6 1862.8 882.7 1866.0C869.9 1869.1 854.9 1870.7 844.2 1870.6C833.5 1870.5 824.9 1867.4 818.5 1865.5C812.1 1863.5 810.3 1859.9 805.6 1858.8C800.9 1857.7 796.6 1860.9 790.2 1858.8C783.8 1856.6 776.1 1852.4 767.1 1845.9C758.1 1839.5 746.9 1830.1 736.2 1820.2C725.5 1810.4 712.7 1798.0 702.8 1786.8C693.0 1775.6 683.3 1764.5 677.1 1752.9C670.9 1741.2 667.8 1728.5 665.5 1716.9C663.3 1705.3 663.0 1695.5 663.7 1683.5C664.5 1671.5 667.3 1655.7 669.9 1644.9C672.6 1634.1 675.9 1627.7 679.7 1618.7C683.5 1609.7 686.5 1599.0 692.5 1590.9C698.5 1582.9 707.1 1576.4 715.7 1570.4C724.2 1564.4 733.2 1558.9 743.9 1555.0C754.7 1551.0 768.4 1549.6 779.9 1546.7C791.5 1543.9 803.9 1540.1 813.3 1537.7C822.8 1535.3 829.2 1533.4 836.5 1532.3C843.8 1531.3 847.2 1530.3 857.0 1531.3Z"/></clipPath>
<g filter="url(#hb)">
<path d="M857.0 1531.3C866.9 1532.3 882.7 1532.8 895.6 1538.3C908.4 1543.7 922.6 1554.1 934.1 1564.0C945.7 1573.8 955.6 1584.7 965.0 1597.4C974.4 1610.0 984.2 1625.4 990.7 1639.8C997.2 1654.1 1001.6 1669.8 1004.1 1683.5C1006.5 1697.2 1006.8 1709.2 1005.6 1722.0C1004.4 1734.9 1001.7 1747.7 997.1 1760.6C992.5 1773.4 985.3 1787.6 977.8 1799.1C970.3 1810.7 961.6 1821.2 952.1 1830.0C942.7 1838.8 932.9 1845.8 921.3 1851.8C909.7 1857.8 895.6 1862.8 882.7 1866.0C869.9 1869.1 854.9 1870.7 844.2 1870.6C833.5 1870.5 824.9 1867.4 818.5 1865.5C812.1 1863.5 810.3 1859.9 805.6 1858.8C800.9 1857.7 796.6 1860.9 790.2 1858.8C783.8 1856.6 776.1 1852.4 767.1 1845.9C758.1 1839.5 746.9 1830.1 736.2 1820.2C725.5 1810.4 712.7 1798.0 702.8 1786.8C693.0 1775.6 683.3 1764.5 677.1 1752.9C670.9 1741.2 667.8 1728.5 665.5 1716.9C663.3 1705.3 663.0 1695.5 663.7 1683.5C664.5 1671.5 667.3 1655.7 669.9 1644.9C672.6 1634.1 675.9 1627.7 679.7 1618.7C683.5 1609.7 686.5 1599.0 692.5 1590.9C698.5 1582.9 707.1 1576.4 715.7 1570.4C724.2 1564.4 733.2 1558.9 743.9 1555.0C754.7 1551.0 768.4 1549.6 779.9 1546.7C791.5 1543.9 803.9 1540.1 813.3 1537.7C822.8 1535.3 829.2 1533.4 836.5 1532.3C843.8 1531.3 847.2 1530.3 857.0 1531.3Z" fill="#98264f"/>
<path d="M857.0 1531.3C866.9 1532.3 882.7 1532.8 895.6 1538.3C908.4 1543.7 922.6 1554.1 934.1 1564.0C945.7 1573.8 955.6 1584.7 965.0 1597.4C974.4 1610.0 984.2 1625.4 990.7 1639.8C997.2 1654.1 1001.6 1669.8 1004.1 1683.5C1006.5 1697.2 1006.8 1709.2 1005.6 1722.0C1004.4 1734.9 1001.7 1747.7 997.1 1760.6C992.5 1773.4 985.3 1787.6 977.8 1799.1C970.3 1810.7 961.6 1821.2 952.1 1830.0C942.7 1838.8 932.9 1845.8 921.3 1851.8C909.7 1857.8 895.6 1862.8 882.7 1866.0C869.9 1869.1 854.9 1870.7 844.2 1870.6C833.5 1870.5 824.9 1867.4 818.5 1865.5C812.1 1863.5 810.3 1859.9 805.6 1858.8C800.9 1857.7 796.6 1860.9 790.2 1858.8C783.8 1856.6 776.1 1852.4 767.1 1845.9C758.1 1839.5 746.9 1830.1 736.2 1820.2C725.5 1810.4 712.7 1798.0 702.8 1786.8C693.0 1775.6 683.3 1764.5 677.1 1752.9C670.9 1741.2 667.8 1728.5 665.5 1716.9C663.3 1705.3 663.0 1695.5 663.7 1683.5C664.5 1671.5 667.3 1655.7 669.9 1644.9C672.6 1634.1 675.9 1627.7 679.7 1618.7C683.5 1609.7 686.5 1599.0 692.5 1590.9C698.5 1582.9 707.1 1576.4 715.7 1570.4C724.2 1564.4 733.2 1558.9 743.9 1555.0C754.7 1551.0 768.4 1549.6 779.9 1546.7C791.5 1543.9 803.9 1540.1 813.3 1537.7C822.8 1535.3 829.2 1533.4 836.5 1532.3C843.8 1531.3 847.2 1530.3 857.0 1531.3Z" fill="#5a1035" filter="url(#tex2)" opacity="0.45"/>
<path d="M857.0 1531.3C866.9 1532.3 882.7 1532.8 895.6 1538.3C908.4 1543.7 922.6 1554.1 934.1 1564.0C945.7 1573.8 955.6 1584.7 965.0 1597.4C974.4 1610.0 984.2 1625.4 990.7 1639.8C997.2 1654.1 1001.6 1669.8 1004.1 1683.5C1006.5 1697.2 1006.8 1709.2 1005.6 1722.0C1004.4 1734.9 1001.7 1747.7 997.1 1760.6C992.5 1773.4 985.3 1787.6 977.8 1799.1C970.3 1810.7 961.6 1821.2 952.1 1830.0C942.7 1838.8 932.9 1845.8 921.3 1851.8C909.7 1857.8 895.6 1862.8 882.7 1866.0C869.9 1869.1 854.9 1870.7 844.2 1870.6C833.5 1870.5 824.9 1867.4 818.5 1865.5C812.1 1863.5 810.3 1859.9 805.6 1858.8C800.9 1857.7 796.6 1860.9 790.2 1858.8C783.8 1856.6 776.1 1852.4 767.1 1845.9C758.1 1839.5 746.9 1830.1 736.2 1820.2C725.5 1810.4 712.7 1798.0 702.8 1786.8C693.0 1775.6 683.3 1764.5 677.1 1752.9C670.9 1741.2 667.8 1728.5 665.5 1716.9C663.3 1705.3 663.0 1695.5 663.7 1683.5C664.5 1671.5 667.3 1655.7 669.9 1644.9C672.6 1634.1 675.9 1627.7 679.7 1618.7C683.5 1609.7 686.5 1599.0 692.5 1590.9C698.5 1582.9 707.1 1576.4 715.7 1570.4C724.2 1564.4 733.2 1558.9 743.9 1555.0C754.7 1551.0 768.4 1549.6 779.9 1546.7C791.5 1543.9 803.9 1540.1 813.3 1537.7C822.8 1535.3 829.2 1533.4 836.5 1532.3C843.8 1531.3 847.2 1530.3 857.0 1531.3Z" fill="#caa2b6" filter="url(#tex3)" opacity="0.34"/>
<path d="M857.0 1531.3C866.9 1532.3 882.7 1532.8 895.6 1538.3C908.4 1543.7 922.6 1554.1 934.1 1564.0C945.7 1573.8 955.6 1584.7 965.0 1597.4C974.4 1610.0 984.2 1625.4 990.7 1639.8C997.2 1654.1 1001.6 1669.8 1004.1 1683.5C1006.5 1697.2 1006.8 1709.2 1005.6 1722.0C1004.4 1734.9 1001.7 1747.7 997.1 1760.6C992.5 1773.4 985.3 1787.6 977.8 1799.1C970.3 1810.7 961.6 1821.2 952.1 1830.0C942.7 1838.8 932.9 1845.8 921.3 1851.8C909.7 1857.8 895.6 1862.8 882.7 1866.0C869.9 1869.1 854.9 1870.7 844.2 1870.6C833.5 1870.5 824.9 1867.4 818.5 1865.5C812.1 1863.5 810.3 1859.9 805.6 1858.8C800.9 1857.7 796.6 1860.9 790.2 1858.8C783.8 1856.6 776.1 1852.4 767.1 1845.9C758.1 1839.5 746.9 1830.1 736.2 1820.2C725.5 1810.4 712.7 1798.0 702.8 1786.8C693.0 1775.6 683.3 1764.5 677.1 1752.9C670.9 1741.2 667.8 1728.5 665.5 1716.9C663.3 1705.3 663.0 1695.5 663.7 1683.5C664.5 1671.5 667.3 1655.7 669.9 1644.9C672.6 1634.1 675.9 1627.7 679.7 1618.7C683.5 1609.7 686.5 1599.0 692.5 1590.9C698.5 1582.9 707.1 1576.4 715.7 1570.4C724.2 1564.4 733.2 1558.9 743.9 1555.0C754.7 1551.0 768.4 1549.6 779.9 1546.7C791.5 1543.9 803.9 1540.1 813.3 1537.7C822.8 1535.3 829.2 1533.4 836.5 1532.3C843.8 1531.3 847.2 1530.3 857.0 1531.3Z" fill="#fff" filter="url(#tex1)" opacity="0.14"/>
<g clip-path="url(#h1c)" fill="none" stroke-linecap="round">
<path d="M950 1764A89 89 0 0 1 919 1791M961 1746A90 90 0 0 1 946 1771M935 1736A62 62 0 0 1 918 1759M887 1589A123 123 0 0 1 910 1593M868 1764A53 53 0 0 1 842 1751M838 1739A48 48 0 0 1 830 1704M948 1796A109 109 0 0 1 935 1805M918 1733A45 45 0 0 1 912 1741M920 1666A63 63 0 0 1 927 1673M968 1719A90 90 0 0 1 956 1756M930 1792A96 96 0 0 1 906 1803M986 1729A110 110 0 0 1 981 1749M755 1786A144 144 0 0 1 737 1743M979 1658A115 115 0 0 1 986 1676M875 1639A73 73 0 0 1 908 1646M849 1790A84 84 0 0 1 829 1780M829 1843A140 140 0 0 1 818 1838M839 1764A65 65 0 0 1 823 1746M1019 1695A142 142 0 0 1 1020 1710M873 1818A107 107 0 0 1 853 1816M926 1691A52 52 0 0 1 928 1727M900 1594A120 120 0 0 1 919 1600M873 1658A54 54 0 0 1 905 1665M928 1747A62 62 0 0 1 912 1763M888 1774A63 63 0 0 1 875 1775M897 1605A108 108 0 0 1 922 1613M928 1670A65 65 0 0 1 942 1706M984 1648A124 124 0 0 1 1000 1690M942 1703A65 65 0 0 1 937 1738M889 1604A108 108 0 0 1 933 1619M925 1668A65 65 0 0 1 941 1696M942 1670A77 77 0 0 1 948 1680M917 1747A53 53 0 0 1 905 1757M979 1688A104 104 0 0 1 982 1714M1012 1750A140 140 0 0 1 999 1782M938 1596A131 131 0 0 1 953 1605M848 1843A135 135 0 0 1 828 1837M886 1774A63 63 0 0 1 849 1768M831 1755A63 63 0 0 1 815 1723M982 1711A104 104 0 0 1 981 1725M841 1742A48 48 0 0 1 833 1729M961 1634A114 114 0 0 1 983 1668M964 1654A103 103 0 0 1 972 1669M873 1596A116 116 0 0 1 893 1597M841 1805A100 100 0 0 1 813 1788M833 1768A72 72 0 0 1 822 1757M912 1683A45 45 0 0 1 922 1701M899 1667A50 50 0 0 1 915 1678M902 1614A101 101 0 0 1 924 1622M769 1788A133 133 0 0 1 752 1755M962 1787A113 113 0 0 1 950 1798M865 1666A47 47 0 0 1 899 1670M790 1785A114 114 0 0 1 783 1775M981 1740A107 107 0 0 1 965 1774M812 1750A76 76 0 0 1 807 1739M892 1809A98 98 0 0 1 850 1806M912 1824A118 118 0 0 1 872 1829M1006 1669A135 135 0 0 1 1013 1707M818 1832A134 134 0 0 1 794 1817M827 1824A123 123 0 0 1 799 1806M982 1692A106 106 0 0 1 983 1724M879 1607A105 105 0 0 1 912 1613M809 1837A143 143 0 0 1 776 1812M890 1793A83 83 0 0 1 861 1793M850 1795A88 88 0 0 1 839 1791M852 1596A119 119 0 0 1 886 1593M937 1641A92 92 0 0 1 958 1667M938 1783A94 94 0 0 1 901 1802M857 1645A69 69 0 0 1 876 1642M938 1618A112 112 0 0 1 951 1628M942 1830A134 134 0 0 1 915 1841M998 1656A133 133 0 0 1 1009 1692M941 1714A64 64 0 0 1 931 1746M812 1830A135 135 0 0 1 790 1815M968 1664A102 102 0 0 1 974 1678M849 1801A93 93 0 0 1 815 1781M793 1790A115 115 0 0 1 781 1774M938 1719A61 61 0 0 1 933 1736M943 1709A65 65 0 0 1 938 1737M960 1668A93 93 0 0 1 971 1705M1018 1731A142 142 0 0 1 1016 1745M856 1754A47 47 0 0 1 848 1748M968 1783A115 115 0 0 1 952 1799M846 1593A123 123 0 0 1 862 1590M857 1625A89 89 0 0 1 895 1624M897 1647A67 67 0 0 1 907 1651M984 1723A107 107 0 0 1 975 1755M859 1819A109 109 0 0 1 817 1803M937 1616A112 112 0 0 1 959 1634M859 1653A62 62 0 0 1 883 1650" stroke="#e2ccd6" stroke-width="1.6" opacity="0.7"/>
<path d="M875 1783A71 71 0 0 1 846 1776M922 1697A47 47 0 0 1 924 1716M851 1762A56 56 0 0 1 830 1742M899 1790A81 81 0 0 1 867 1792M905 1750A47 47 0 0 1 893 1756M980 1694A104 104 0 0 1 979 1733M873 1753A42 42 0 0 1 856 1747M841 1767A66 66 0 0 1 834 1761M849 1740A41 41 0 0 1 838 1721M841 1735A43 43 0 0 1 836 1701M905 1747A44 44 0 0 1 895 1753M882 1771A59 59 0 0 1 868 1770M964 1695A88 88 0 0 1 966 1710M942 1784A97 97 0 0 1 922 1798M917 1782A80 80 0 0 1 896 1790M869 1749A38 38 0 0 1 843 1727M872 1820A109 109 0 0 1 849 1817M870 1774A63 63 0 0 1 842 1764M919 1727A44 44 0 0 1 910 1743M843 1777A74 74 0 0 1 823 1762M859 1745A38 38 0 0 1 845 1731M949 1735A75 75 0 0 1 938 1755M854 1772A65 65 0 0 1 843 1767M953 1725A77 77 0 0 1 941 1755M912 1729A39 39 0 0 1 901 1743M959 1696A83 83 0 0 1 961 1721M923 1736A52 52 0 0 1 909 1753M928 1806A107 107 0 0 1 885 1819M842 1745A48 48 0 0 1 832 1729M863 1760A50 50 0 0 1 835 1739M910 1728A36 36 0 0 1 889 1746M935 1734A61 61 0 0 1 931 1742M881 1751A39 39 0 0 1 849 1738M923 1812A110 110 0 0 1 913 1816M853 1767A60 60 0 0 1 827 1745M957 1739A84 84 0 0 1 944 1763M882 1783A72 72 0 0 1 864 1782M806 1791A107 107 0 0 1 795 1779M842 1757A58 58 0 0 1 830 1744M918 1810A106 106 0 0 1 883 1818M963 1737A89 89 0 0 1 955 1755M872 1766A55 55 0 0 1 845 1756M848 1746A46 46 0 0 1 836 1730M909 1755A54 54 0 0 1 874 1766M883 1789A78 78 0 0 1 844 1782M842 1813A108 108 0 0 1 819 1802M823 1770A80 80 0 0 1 803 1741M939 1762A79 79 0 0 1 923 1776M900 1800A91 91 0 0 1 890 1802M816 1776A89 89 0 0 1 795 1746" stroke="#efe3e8" stroke-width="1.5" opacity="0.7"/>
<path d="M701 1641A145 145 0 0 1 723 1608M708 1823A171 171 0 0 1 694 1805M722 1791A140 140 0 0 1 701 1756M692 1693A139 139 0 0 1 695 1673M687 1728A147 147 0 0 1 686 1682M771 1853A160 160 0 0 1 750 1842M745 1594A140 140 0 0 1 784 1572M713 1583A169 169 0 0 1 750 1556M699 1589A175 175 0 0 1 717 1572M661 1710A171 171 0 0 1 665 1664M675 1731A158 158 0 0 1 673 1703M694 1771A152 152 0 0 1 688 1755M705 1591A169 169 0 0 1 748 1556M669 1682A164 164 0 0 1 681 1639M705 1646A140 140 0 0 1 720 1620M726 1798A141 141 0 0 1 707 1771M687 1718A145 145 0 0 1 688 1682M738 1822A151 151 0 0 1 715 1800M716 1791A144 144 0 0 1 706 1774M756 1833A150 150 0 0 1 725 1809M662 1751A175 175 0 0 1 656 1706M755 1861A174 174 0 0 1 738 1851M717 1580A169 169 0 0 1 750 1556M694 1734A141 141 0 0 1 692 1687M704 1588A172 172 0 0 1 720 1573M668 1756A171 171 0 0 1 661 1712M774 1576A140 140 0 0 1 809 1566M705 1811A165 165 0 0 1 684 1778M676 1669A159 159 0 0 1 685 1643M678 1767A165 165 0 0 1 670 1742M704 1643A141 141 0 0 1 712 1629M760 1829A144 144 0 0 1 730 1806M674 1687A158 158 0 0 1 676 1674M690 1761A153 153 0 0 1 684 1746M785 1579A134 134 0 0 1 800 1574M707 1783A147 147 0 0 1 692 1750M695 1714A137 137 0 0 1 695 1688M771 1863A170 170 0 0 1 746 1851M768 1562A155 155 0 0 1 800 1552M690 1642A154 154 0 0 1 702 1620M696 1704A135 135 0 0 1 705 1657M694 1796A166 166 0 0 1 675 1759M689 1799A171 171 0 0 1 672 1765M710 1791A149 149 0 0 1 698 1771M698 1755A143 143 0 0 1 694 1742" stroke="#e2ccd6" stroke-width="1.7" opacity="0.65"/>
<path d="M896 1771A62 62 0 0 1 867 1773M897 1565A148 148 0 0 1 919 1570M947 1818A127 127 0 0 1 926 1829M975 1638A122 122 0 0 1 993 1674M867 1649A64 64 0 0 1 903 1654M883 1624A88 88 0 0 1 919 1634M809 1618A116 116 0 0 1 837 1603M817 1609A120 120 0 0 1 850 1595M911 1657A64 64 0 0 1 920 1664M806 1722A72 72 0 0 1 806 1700M1020 1654A153 153 0 0 1 1029 1690M932 1842A141 141 0 0 1 917 1847M952 1795A112 112 0 0 1 939 1806M834 1755A61 61 0 0 1 821 1735M946 1691A71 71 0 0 1 949 1707M1011 1712A133 133 0 0 1 1010 1728M763 1639A136 136 0 0 1 777 1621M881 1766A54 54 0 0 1 869 1765M790 1654A105 105 0 0 1 808 1633M997 1738A122 122 0 0 1 987 1765M971 1673A101 101 0 0 1 979 1703M938 1702A61 61 0 0 1 938 1718M747 1764A140 140 0 0 1 743 1751M897 1775A66 66 0 0 1 870 1777M893 1763A53 53 0 0 1 857 1761M932 1634A95 95 0 0 1 954 1655M890 1564A148 148 0 0 1 914 1568M927 1763A71 71 0 0 1 907 1776M937 1661A78 78 0 0 1 943 1670M795 1721A84 84 0 0 1 797 1692M804 1743A80 80 0 0 1 798 1723M802 1695A77 77 0 0 1 807 1681M869 1640A72 72 0 0 1 905 1645M877 1633A79 79 0 0 1 906 1638M915 1571A146 146 0 0 1 955 1588M960 1745A89 89 0 0 1 945 1771M871 1860A148 148 0 0 1 838 1855M970 1609A138 138 0 0 1 988 1629M1021 1754A150 150 0 0 1 1003 1794M805 1754A84 84 0 0 1 795 1726M807 1743A77 77 0 0 1 801 1719M885 1626A86 86 0 0 1 898 1628M903 1779A72 72 0 0 1 890 1783M951 1686A78 78 0 0 1 956 1713M858 1800A91 91 0 0 1 840 1794M957 1671A89 89 0 0 1 963 1684M833 1653A74 74 0 0 1 862 1639M910 1770A66 66 0 0 1 896 1776M943 1810A118 118 0 0 1 922 1821M959 1835A147 147 0 0 1 928 1850" stroke="#651540" stroke-width="2.2" opacity="0.45"/>
</g>
<path d="M860.9 1562.2C861.7 1561.0 840.5 1565.3 831.3 1567.3C822.1 1569.3 814.2 1571.8 805.6 1574.0C797.1 1576.2 788.1 1578.2 779.9 1580.7C771.8 1583.2 762.8 1585.7 756.8 1588.9C750.8 1592.1 746.9 1594.9 743.9 1599.9C740.9 1605.0 740.9 1611.7 738.8 1619.2C736.7 1626.7 734.0 1636.4 731.1 1644.9C728.2 1653.5 724.2 1662.1 721.3 1670.6C718.4 1679.2 715.3 1687.8 713.6 1696.3C711.9 1704.9 710.9 1713.5 711.0 1722.0C711.2 1730.6 711.9 1739.2 714.4 1747.7C716.9 1756.3 721.0 1765.3 725.9 1773.4C730.9 1781.6 737.5 1789.3 743.9 1796.6C750.4 1803.9 758.9 1810.7 764.5 1817.1C770.1 1823.6 774.1 1830.1 777.4 1835.1C780.6 1840.2 781.6 1848.1 783.8 1847.5C786.0 1846.8 789.6 1836.8 790.7 1831.3C791.9 1825.8 788.2 1818.0 790.7 1814.6C793.2 1811.1 798.9 1811.1 805.6 1810.7C812.4 1810.4 822.6 1812.3 831.3 1812.5C840.1 1812.7 853.8 1812.9 858.3 1812.0C862.8 1811.1 862.8 1808.1 858.3 1806.9C853.8 1805.7 840.5 1805.9 831.3 1804.8C822.1 1803.7 811.2 1802.7 803.1 1800.4C794.9 1798.2 788.3 1795.9 782.5 1791.4C776.7 1786.9 772.1 1780.7 768.4 1773.4C764.6 1766.2 762.0 1756.3 759.9 1747.7C757.7 1739.2 756.7 1730.6 755.5 1722.0C754.4 1713.5 752.9 1704.9 752.9 1696.3C752.9 1687.8 754.2 1679.2 755.5 1670.6C756.8 1662.1 758.3 1653.1 760.6 1644.9C763.0 1636.8 765.6 1629.1 769.6 1621.8C773.7 1614.5 779.5 1607.2 785.1 1601.2C790.6 1595.2 796.2 1590.3 803.1 1585.8C809.9 1581.3 816.6 1578.2 826.2 1574.2C835.8 1570.3 860.0 1563.3 860.9 1562.2Z" fill="#d2d3d1"/>
<path d="M858.3 1605.1C862.2 1604.8 874.6 1607.9 876.3 1611.0C878.0 1614.1 871.8 1619.8 868.6 1623.8C865.4 1627.9 860.0 1631.6 857.0 1635.2C854.0 1638.7 850.2 1644.2 850.6 1644.9C851.0 1645.7 856.0 1640.2 859.6 1639.8C863.2 1639.4 869.5 1640.6 872.5 1642.4C875.5 1644.1 876.1 1650.1 877.6 1650.1C879.1 1650.1 880.3 1640.6 881.5 1642.4C882.7 1644.1 882.4 1657.1 884.8 1660.3C887.2 1663.6 891.7 1660.3 895.6 1661.6C899.5 1663.0 905.4 1667.5 908.4 1668.6C911.5 1669.6 912.9 1665.2 914.1 1668.1C915.3 1670.9 914.4 1681.7 915.6 1685.5C916.8 1689.4 922.1 1689.2 921.3 1691.2C920.5 1693.2 912.5 1694.2 911.0 1697.6C909.6 1701.0 911.3 1707.3 912.6 1711.8C913.8 1716.3 919.4 1720.7 918.7 1724.6C918.0 1728.5 913.6 1733.9 908.4 1735.4C903.3 1736.9 893.9 1733.5 887.9 1733.9C881.9 1734.2 877.2 1735.1 872.5 1737.5C867.7 1739.9 863.9 1747.0 859.6 1748.3C855.3 1749.5 850.6 1747.8 846.8 1745.2C842.9 1742.5 839.0 1737.9 836.5 1732.3C833.9 1726.7 832.5 1718.6 831.3 1711.8C830.2 1704.9 829.7 1698.0 829.5 1691.2C829.4 1684.3 829.5 1677.5 830.3 1670.6C831.1 1663.8 832.3 1656.9 834.4 1650.1C836.6 1643.2 840.0 1635.7 843.2 1629.5C846.3 1623.3 850.7 1616.9 853.2 1612.8C855.7 1608.7 854.5 1605.4 858.3 1605.1Z" fill="#d2d3d1"/>
<path d="M767.1 1592.2C770.6 1589.2 779.3 1586.4 781.2 1588.4C783.1 1590.3 780.1 1599.1 778.6 1603.8C777.1 1608.5 774.6 1612.7 772.2 1616.7C769.9 1620.6 766.9 1626.5 764.5 1627.4C762.1 1628.4 758.8 1625.8 758.1 1622.3C757.3 1618.8 758.4 1611.4 759.9 1606.4C761.4 1601.4 763.5 1595.2 767.1 1592.2Z" fill="#93264e"/>
<path d="M767.1 1592.2C770.6 1589.2 779.3 1586.4 781.2 1588.4C783.1 1590.3 780.1 1599.1 778.6 1603.8C777.1 1608.5 774.6 1612.7 772.2 1616.7C769.9 1620.6 766.9 1626.5 764.5 1627.4C762.1 1628.4 758.8 1625.8 758.1 1622.3C757.3 1618.8 758.4 1611.4 759.9 1606.4C761.4 1601.4 763.5 1595.2 767.1 1592.2Z" fill="#caa2b6" filter="url(#tex3)" opacity="0.4"/>
<path d="M735.7 1691.2C737.5 1688.7 741.2 1687.0 743.9 1689.1C746.7 1691.3 750.8 1698.9 752.2 1704.0C753.5 1709.2 753.5 1716.0 752.2 1720.0C750.8 1723.9 746.7 1727.7 743.9 1727.7C741.2 1727.7 737.5 1723.9 735.7 1720.0C733.9 1716.0 733.1 1708.8 733.1 1704.0C733.1 1699.2 733.9 1693.7 735.7 1691.2Z" fill="#93264e"/>
<path d="M735.7 1691.2C737.5 1688.7 741.2 1687.0 743.9 1689.1C746.7 1691.3 750.8 1698.9 752.2 1704.0C753.5 1709.2 753.5 1716.0 752.2 1720.0C750.8 1723.9 746.7 1727.7 743.9 1727.7C741.2 1727.7 737.5 1723.9 735.7 1720.0C733.9 1716.0 733.1 1708.8 733.1 1704.0C733.1 1699.2 733.9 1693.7 735.7 1691.2Z" fill="#caa2b6" filter="url(#tex3)" opacity="0.4"/>
<path d="M847.3 1646.2C850.1 1643.3 855.4 1639.1 859.6 1638.5C863.8 1637.9 869.6 1639.7 872.5 1642.9C875.3 1646.1 877.3 1652.7 876.6 1657.8C875.8 1662.8 871.7 1669.7 867.8 1673.2C864.0 1676.7 857.4 1679.6 853.4 1678.9C849.5 1678.1 846.0 1672.4 844.2 1668.6C842.4 1664.7 842.1 1659.4 842.6 1655.7C843.2 1652.0 844.4 1649.1 847.3 1646.2Z" fill="#93264e"/>
<path d="M847.3 1646.2C850.1 1643.3 855.4 1639.1 859.6 1638.5C863.8 1637.9 869.6 1639.7 872.5 1642.9C875.3 1646.1 877.3 1652.7 876.6 1657.8C875.8 1662.8 871.7 1669.7 867.8 1673.2C864.0 1676.7 857.4 1679.6 853.4 1678.9C849.5 1678.1 846.0 1672.4 844.2 1668.6C842.4 1664.7 842.1 1659.4 842.6 1655.7C843.2 1652.0 844.4 1649.1 847.3 1646.2Z" fill="#caa2b6" filter="url(#tex3)" opacity="0.4"/>
<path d="M888.4 1666.0C890.1 1663.4 894.8 1660.4 898.2 1660.9C901.5 1661.3 907.2 1665.1 908.4 1668.6C909.7 1672.0 908.0 1678.9 905.9 1681.4C903.7 1684.0 898.6 1684.9 895.6 1684.0C892.6 1683.1 889.1 1679.3 887.9 1676.3C886.7 1673.3 886.7 1668.6 888.4 1666.0Z" fill="#93264e"/>
<path d="M888.4 1666.0C890.1 1663.4 894.8 1660.4 898.2 1660.9C901.5 1661.3 907.2 1665.1 908.4 1668.6C909.7 1672.0 908.0 1678.9 905.9 1681.4C903.7 1684.0 898.6 1684.9 895.6 1684.0C892.6 1683.1 889.1 1679.3 887.9 1676.3C886.7 1673.3 886.7 1668.6 888.4 1666.0Z" fill="#caa2b6" filter="url(#tex3)" opacity="0.4"/>
<path d="M878.9 1712.3C881.1 1710.0 887.0 1707.2 890.5 1708.2C893.9 1709.1 898.8 1714.5 899.7 1718.2C900.6 1721.9 898.4 1728.2 895.6 1730.3C892.8 1732.3 885.8 1731.6 882.7 1730.3C879.7 1728.9 877.7 1725.0 877.1 1722.0C876.4 1719.0 876.7 1714.6 878.9 1712.3Z" fill="#93264e"/>
<path d="M878.9 1712.3C881.1 1710.0 887.0 1707.2 890.5 1708.2C893.9 1709.1 898.8 1714.5 899.7 1718.2C900.6 1721.9 898.4 1728.2 895.6 1730.3C892.8 1732.3 885.8 1731.6 882.7 1730.3C879.7 1728.9 877.7 1725.0 877.1 1722.0C876.4 1719.0 876.7 1714.6 878.9 1712.3Z" fill="#caa2b6" filter="url(#tex3)" opacity="0.4"/>
<path d="M794.1 1804.8C795.9 1803.4 801.1 1801.7 803.1 1802.7C805.0 1803.8 806.5 1808.9 805.6 1811.0C804.8 1813.0 800.1 1815.1 797.9 1815.1C795.7 1815.1 792.9 1812.7 792.3 1811.0C791.6 1809.3 792.3 1806.2 794.1 1804.8Z" fill="#93264e"/>
<path d="M794.1 1804.8C795.9 1803.4 801.1 1801.7 803.1 1802.7C805.0 1803.8 806.5 1808.9 805.6 1811.0C804.8 1813.0 800.1 1815.1 797.9 1815.1C795.7 1815.1 792.9 1812.7 792.3 1811.0C791.6 1809.3 792.3 1806.2 794.1 1804.8Z" fill="#caa2b6" filter="url(#tex3)" opacity="0.4"/>
<path d="M810.8 1824.9C814.2 1824.7 824.1 1823.0 831.3 1823.8C838.6 1824.7 847.6 1830.5 854.5 1830.0C861.3 1829.5 869.5 1822.3 872.5 1820.7" stroke="#e6d8dd" stroke-width="2.6" fill="none" stroke-linecap="round"/>
<path d="M877.6 1845.9C879.7 1843.3 887.4 1833.5 890.5 1830.0C893.5 1826.5 895.2 1825.7 896.1 1824.9" stroke="#e6d8dd" stroke-width="2.6" fill="none" stroke-linecap="round"/>
<path d="M844.2 1768.3C846.3 1771.3 852.3 1781.6 857.0 1786.3C861.7 1791.0 869.9 1794.9 872.5 1796.6" stroke="#e2d0d8" stroke-width="2.2" fill="none" stroke-linecap="round"/>
<path d="M684.8 1644.9C686.1 1645.8 690.4 1650.1 692.5 1650.1C694.7 1650.1 696.8 1645.8 697.7 1644.9" stroke="#e8dde1" stroke-width="2.4" fill="none" stroke-linecap="round"/>
<path d="M846.8 1553.7C848.5 1554.7 854.0 1559.5 857.0 1560.1C860.0 1560.7 863.5 1558.0 864.7 1557.5" stroke="#e8dde1" stroke-width="2.4" fill="none" stroke-linecap="round"/>
<path d="M934.1 1588.4C938.4 1591.8 952.1 1602.1 959.9 1608.9C967.6 1615.8 977.0 1626.1 980.4 1629.5" stroke="#dcc4cf" stroke-width="2" fill="none" stroke-linecap="round"/>
<path d="M813.3 1773.4C814.2 1777.3 817.6 1792.7 818.5 1796.6" stroke="#e6d8dd" stroke-width="2.4" fill="none" stroke-linecap="round"/>
<circle cx="753.7" cy="1604.3" r="2.4" fill="#4a62b0" opacity="0.75"/>
<circle cx="740.1" cy="1691.2" r="2.4" fill="#4a62b0" opacity="0.75"/>
<circle cx="751.7" cy="1707.9" r="2.0" fill="#4a62b0" opacity="0.75"/>
<circle cx="880.7" cy="1713.8" r="3.0" fill="#4a62b0" opacity="0.75"/>
<circle cx="885.3" cy="1707.9" r="2.0" fill="#4a62b0" opacity="0.75"/>
<circle cx="877.6" cy="1668.1" r="2.0" fill="#4a62b0" opacity="0.75"/>
<circle cx="980.4" cy="1737.5" r="2.4" fill="#4a62b0" opacity="0.75"/>
<circle cx="880.2" cy="1678.3" r="1.8" fill="#4a62b0" opacity="0.75"/>
<circle cx="859.6" cy="1542.1" r="1.8" fill="#4a62b0" opacity="0.75"/>
</g>
<rect x="977" y="1894.5" width="73" height="20.5" fill="#000"/>
<clipPath id="h2c"><path d="M1377.7 1519.7C1390.6 1519.3 1403.4 1519.5 1416.3 1522.8C1429.1 1526.1 1442.0 1532.5 1454.9 1539.5C1467.7 1546.6 1481.4 1554.5 1493.4 1565.2C1505.4 1576.0 1517.8 1590.5 1526.8 1603.8C1535.8 1617.1 1542.2 1630.4 1547.4 1644.9C1552.6 1659.5 1556.8 1676.2 1558.2 1691.2C1559.6 1706.2 1558.2 1721.2 1555.6 1734.9C1553.0 1748.6 1548.8 1761.0 1542.8 1773.4C1536.8 1785.9 1529.0 1798.3 1519.6 1809.4C1510.2 1820.6 1497.8 1831.6 1486.2 1840.3C1474.6 1848.9 1463.1 1855.7 1450.2 1861.4C1437.4 1867.0 1423.3 1871.2 1409.1 1874.2C1394.9 1877.2 1378.7 1878.1 1364.9 1879.3C1351.1 1880.6 1337.9 1881.5 1326.3 1881.9C1314.8 1882.3 1306.6 1883.6 1295.5 1881.9C1284.4 1880.2 1271.5 1876.8 1259.5 1871.6C1247.5 1866.5 1234.7 1858.8 1223.5 1851.1C1212.4 1843.4 1203.0 1834.8 1192.7 1825.4C1182.4 1815.9 1171.3 1805.2 1161.8 1794.5C1152.4 1783.8 1143.8 1771.5 1136.1 1761.1C1128.4 1750.7 1120.6 1741.8 1115.6 1732.3C1110.6 1722.8 1107.0 1713.5 1106.1 1704.0C1105.1 1694.6 1107.0 1684.3 1109.9 1675.8C1112.8 1667.2 1117.2 1659.5 1123.3 1652.6C1129.4 1645.8 1138.3 1639.7 1146.4 1634.6C1154.5 1629.6 1163.5 1625.3 1172.1 1622.3C1180.7 1619.3 1191.0 1618.9 1197.8 1616.7C1204.7 1614.4 1206.4 1614.1 1213.2 1608.9C1220.1 1603.8 1229.5 1593.9 1238.9 1585.8C1248.4 1577.7 1259.5 1567.8 1269.8 1560.1C1280.1 1552.4 1289.1 1545.3 1300.6 1539.5C1312.2 1533.8 1326.3 1528.7 1339.2 1525.4C1352.0 1522.1 1364.9 1520.2 1377.7 1519.7Z"/></clipPath>
<g filter="url(#hb)">
<path d="M1377.7 1519.7C1390.6 1519.3 1403.4 1519.5 1416.3 1522.8C1429.1 1526.1 1442.0 1532.5 1454.9 1539.5C1467.7 1546.6 1481.4 1554.5 1493.4 1565.2C1505.4 1576.0 1517.8 1590.5 1526.8 1603.8C1535.8 1617.1 1542.2 1630.4 1547.4 1644.9C1552.6 1659.5 1556.8 1676.2 1558.2 1691.2C1559.6 1706.2 1558.2 1721.2 1555.6 1734.9C1553.0 1748.6 1548.8 1761.0 1542.8 1773.4C1536.8 1785.9 1529.0 1798.3 1519.6 1809.4C1510.2 1820.6 1497.8 1831.6 1486.2 1840.3C1474.6 1848.9 1463.1 1855.7 1450.2 1861.4C1437.4 1867.0 1423.3 1871.2 1409.1 1874.2C1394.9 1877.2 1378.7 1878.1 1364.9 1879.3C1351.1 1880.6 1337.9 1881.5 1326.3 1881.9C1314.8 1882.3 1306.6 1883.6 1295.5 1881.9C1284.4 1880.2 1271.5 1876.8 1259.5 1871.6C1247.5 1866.5 1234.7 1858.8 1223.5 1851.1C1212.4 1843.4 1203.0 1834.8 1192.7 1825.4C1182.4 1815.9 1171.3 1805.2 1161.8 1794.5C1152.4 1783.8 1143.8 1771.5 1136.1 1761.1C1128.4 1750.7 1120.6 1741.8 1115.6 1732.3C1110.6 1722.8 1107.0 1713.5 1106.1 1704.0C1105.1 1694.6 1107.0 1684.3 1109.9 1675.8C1112.8 1667.2 1117.2 1659.5 1123.3 1652.6C1129.4 1645.8 1138.3 1639.7 1146.4 1634.6C1154.5 1629.6 1163.5 1625.3 1172.1 1622.3C1180.7 1619.3 1191.0 1618.9 1197.8 1616.7C1204.7 1614.4 1206.4 1614.1 1213.2 1608.9C1220.1 1603.8 1229.5 1593.9 1238.9 1585.8C1248.4 1577.7 1259.5 1567.8 1269.8 1560.1C1280.1 1552.4 1289.1 1545.3 1300.6 1539.5C1312.2 1533.8 1326.3 1528.7 1339.2 1525.4C1352.0 1522.1 1364.9 1520.2 1377.7 1519.7Z" fill="#98264f"/>
<path d="M1377.7 1519.7C1390.6 1519.3 1403.4 1519.5 1416.3 1522.8C1429.1 1526.1 1442.0 1532.5 1454.9 1539.5C1467.7 1546.6 1481.4 1554.5 1493.4 1565.2C1505.4 1576.0 1517.8 1590.5 1526.8 1603.8C1535.8 1617.1 1542.2 1630.4 1547.4 1644.9C1552.6 1659.5 1556.8 1676.2 1558.2 1691.2C1559.6 1706.2 1558.2 1721.2 1555.6 1734.9C1553.0 1748.6 1548.8 1761.0 1542.8 1773.4C1536.8 1785.9 1529.0 1798.3 1519.6 1809.4C1510.2 1820.6 1497.8 1831.6 1486.2 1840.3C1474.6 1848.9 1463.1 1855.7 1450.2 1861.4C1437.4 1867.0 1423.3 1871.2 1409.1 1874.2C1394.9 1877.2 1378.7 1878.1 1364.9 1879.3C1351.1 1880.6 1337.9 1881.5 1326.3 1881.9C1314.8 1882.3 1306.6 1883.6 1295.5 1881.9C1284.4 1880.2 1271.5 1876.8 1259.5 1871.6C1247.5 1866.5 1234.7 1858.8 1223.5 1851.1C1212.4 1843.4 1203.0 1834.8 1192.7 1825.4C1182.4 1815.9 1171.3 1805.2 1161.8 1794.5C1152.4 1783.8 1143.8 1771.5 1136.1 1761.1C1128.4 1750.7 1120.6 1741.8 1115.6 1732.3C1110.6 1722.8 1107.0 1713.5 1106.1 1704.0C1105.1 1694.6 1107.0 1684.3 1109.9 1675.8C1112.8 1667.2 1117.2 1659.5 1123.3 1652.6C1129.4 1645.8 1138.3 1639.7 1146.4 1634.6C1154.5 1629.6 1163.5 1625.3 1172.1 1622.3C1180.7 1619.3 1191.0 1618.9 1197.8 1616.7C1204.7 1614.4 1206.4 1614.1 1213.2 1608.9C1220.1 1603.8 1229.5 1593.9 1238.9 1585.8C1248.4 1577.7 1259.5 1567.8 1269.8 1560.1C1280.1 1552.4 1289.1 1545.3 1300.6 1539.5C1312.2 1533.8 1326.3 1528.7 1339.2 1525.4C1352.0 1522.1 1364.9 1520.2 1377.7 1519.7Z" fill="#5a1035" filter="url(#tex2)" opacity="0.45"/>
<path d="M1377.7 1519.7C1390.6 1519.3 1403.4 1519.5 1416.3 1522.8C1429.1 1526.1 1442.0 1532.5 1454.9 1539.5C1467.7 1546.6 1481.4 1554.5 1493.4 1565.2C1505.4 1576.0 1517.8 1590.5 1526.8 1603.8C1535.8 1617.1 1542.2 1630.4 1547.4 1644.9C1552.6 1659.5 1556.8 1676.2 1558.2 1691.2C1559.6 1706.2 1558.2 1721.2 1555.6 1734.9C1553.0 1748.6 1548.8 1761.0 1542.8 1773.4C1536.8 1785.9 1529.0 1798.3 1519.6 1809.4C1510.2 1820.6 1497.8 1831.6 1486.2 1840.3C1474.6 1848.9 1463.1 1855.7 1450.2 1861.4C1437.4 1867.0 1423.3 1871.2 1409.1 1874.2C1394.9 1877.2 1378.7 1878.1 1364.9 1879.3C1351.1 1880.6 1337.9 1881.5 1326.3 1881.9C1314.8 1882.3 1306.6 1883.6 1295.5 1881.9C1284.4 1880.2 1271.5 1876.8 1259.5 1871.6C1247.5 1866.5 1234.7 1858.8 1223.5 1851.1C1212.4 1843.4 1203.0 1834.8 1192.7 1825.4C1182.4 1815.9 1171.3 1805.2 1161.8 1794.5C1152.4 1783.8 1143.8 1771.5 1136.1 1761.1C1128.4 1750.7 1120.6 1741.8 1115.6 1732.3C1110.6 1722.8 1107.0 1713.5 1106.1 1704.0C1105.1 1694.6 1107.0 1684.3 1109.9 1675.8C1112.8 1667.2 1117.2 1659.5 1123.3 1652.6C1129.4 1645.8 1138.3 1639.7 1146.4 1634.6C1154.5 1629.6 1163.5 1625.3 1172.1 1622.3C1180.7 1619.3 1191.0 1618.9 1197.8 1616.7C1204.7 1614.4 1206.4 1614.1 1213.2 1608.9C1220.1 1603.8 1229.5 1593.9 1238.9 1585.8C1248.4 1577.7 1259.5 1567.8 1269.8 1560.1C1280.1 1552.4 1289.1 1545.3 1300.6 1539.5C1312.2 1533.8 1326.3 1528.7 1339.2 1525.4C1352.0 1522.1 1364.9 1520.2 1377.7 1519.7Z" fill="#caa2b6" filter="url(#tex3)" opacity="0.34"/>
<path d="M1377.7 1519.7C1390.6 1519.3 1403.4 1519.5 1416.3 1522.8C1429.1 1526.1 1442.0 1532.5 1454.9 1539.5C1467.7 1546.6 1481.4 1554.5 1493.4 1565.2C1505.4 1576.0 1517.8 1590.5 1526.8 1603.8C1535.8 1617.1 1542.2 1630.4 1547.4 1644.9C1552.6 1659.5 1556.8 1676.2 1558.2 1691.2C1559.6 1706.2 1558.2 1721.2 1555.6 1734.9C1553.0 1748.6 1548.8 1761.0 1542.8 1773.4C1536.8 1785.9 1529.0 1798.3 1519.6 1809.4C1510.2 1820.6 1497.8 1831.6 1486.2 1840.3C1474.6 1848.9 1463.1 1855.7 1450.2 1861.4C1437.4 1867.0 1423.3 1871.2 1409.1 1874.2C1394.9 1877.2 1378.7 1878.1 1364.9 1879.3C1351.1 1880.6 1337.9 1881.5 1326.3 1881.9C1314.8 1882.3 1306.6 1883.6 1295.5 1881.9C1284.4 1880.2 1271.5 1876.8 1259.5 1871.6C1247.5 1866.5 1234.7 1858.8 1223.5 1851.1C1212.4 1843.4 1203.0 1834.8 1192.7 1825.4C1182.4 1815.9 1171.3 1805.2 1161.8 1794.5C1152.4 1783.8 1143.8 1771.5 1136.1 1761.1C1128.4 1750.7 1120.6 1741.8 1115.6 1732.3C1110.6 1722.8 1107.0 1713.5 1106.1 1704.0C1105.1 1694.6 1107.0 1684.3 1109.9 1675.8C1112.8 1667.2 1117.2 1659.5 1123.3 1652.6C1129.4 1645.8 1138.3 1639.7 1146.4 1634.6C1154.5 1629.6 1163.5 1625.3 1172.1 1622.3C1180.7 1619.3 1191.0 1618.9 1197.8 1616.7C1204.7 1614.4 1206.4 1614.1 1213.2 1608.9C1220.1 1603.8 1229.5 1593.9 1238.9 1585.8C1248.4 1577.7 1259.5 1567.8 1269.8 1560.1C1280.1 1552.4 1289.1 1545.3 1300.6 1539.5C1312.2 1533.8 1326.3 1528.7 1339.2 1525.4C1352.0 1522.1 1364.9 1520.2 1377.7 1519.7Z" fill="#fff" filter="url(#tex1)" opacity="0.14"/>
<g clip-path="url(#h2c)" fill="none" stroke-linecap="round">
<path d="M1349 1579A128 122 0 0 1 1384 1574M1238 1690A148 140 0 0 1 1246 1649M1271 1580A168 160 0 0 1 1298 1560M1270 1759A133 126 0 0 1 1259 1736M1240 1746A154 147 0 0 1 1231 1703M1253 1686A133 126 0 0 1 1255 1673M1357 1528A180 171 0 0 1 1409 1527M1244 1759A156 148 0 0 1 1235 1736M1240 1727A149 141 0 0 1 1238 1679M1245 1712A141 134 0 0 1 1247 1670M1427 1583A126 120 0 0 1 1453 1595M1244 1643A152 145 0 0 1 1259 1616M1267 1747A130 123 0 0 1 1256 1706M1379 1570A133 126 0 0 1 1398 1571M1429 1532A178 169 0 0 1 1472 1549M1296 1564A165 157 0 0 1 1336 1547M1291 1617A126 120 0 0 1 1325 1592M1427 1579A131 124 0 0 1 1467 1600M1255 1639A144 136 0 0 1 1271 1615M1455 1579A142 135 0 0 1 1477 1593M1270 1728A120 114 0 0 1 1266 1692M1257 1577A179 171 0 0 1 1284 1556M1365 1553A152 145 0 0 1 1386 1552M1293 1577A156 148 0 0 1 1326 1559M1256 1706A129 123 0 0 1 1257 1682M1223 1634A175 167 0 0 1 1242 1601M1253 1729A137 130 0 0 1 1250 1716M1375 1537A168 160 0 0 1 1404 1537M1334 1552A160 152 0 0 1 1384 1544M1234 1609A177 168 0 0 1 1271 1568M1293 1552A178 169 0 0 1 1341 1533M1252 1634A149 141 0 0 1 1264 1616M1214 1712A172 164 0 0 1 1213 1697M1374 1537A168 160 0 0 1 1408 1538M1228 1757A170 161 0 0 1 1221 1736M1271 1626A136 129 0 0 1 1282 1612M1271 1655A123 116 0 0 1 1294 1618M1360 1528A179 170 0 0 1 1395 1527M1440 1580A134 127 0 0 1 1467 1596M1238 1764A163 155 0 0 1 1230 1745M1383 1535A170 161 0 0 1 1434 1542M1257 1614A155 148 0 0 1 1280 1588M1222 1651A171 162 0 0 1 1235 1619M1374 1568A135 128 0 0 1 1386 1568M1448 1556A161 152 0 0 1 1460 1562M1324 1561A155 147 0 0 1 1370 1550M1233 1674A154 147 0 0 1 1240 1648M1434 1534A177 169 0 0 1 1452 1540M1266 1729A124 118 0 0 1 1263 1718M1241 1718A146 139 0 0 1 1242 1673M1230 1725A159 151 0 0 1 1227 1692M1286 1605A138 131 0 0 1 1301 1592M1257 1701A128 122 0 0 1 1259 1677M1287 1574A162 154 0 0 1 1299 1566M1417 1545A162 154 0 0 1 1460 1559M1239 1773A167 159 0 0 1 1226 1744M1374 1581A122 116 0 0 1 1392 1580M1225 1675A162 154 0 0 1 1236 1636M1259 1749A138 131 0 0 1 1251 1724M1421 1570A137 130 0 0 1 1443 1578M1294 1584A149 142 0 0 1 1340 1561M1324 1594A124 118 0 0 1 1352 1583M1455 1556A164 155 0 0 1 1477 1568M1279 1581A161 153 0 0 1 1309 1561M1390 1580A122 116 0 0 1 1437 1591M1252 1656A140 133 0 0 1 1276 1613M1267 1734A125 119 0 0 1 1263 1721M1368 1537A168 160 0 0 1 1400 1537M1246 1764A157 149 0 0 1 1233 1729M1287 1594A146 138 0 0 1 1310 1578M1243 1687A143 136 0 0 1 1244 1674M1242 1679A145 138 0 0 1 1252 1642M1352 1539A169 160 0 0 1 1384 1536M1268 1637A133 126 0 0 1 1285 1614M1451 1560A157 149 0 0 1 1465 1567M1279 1599A148 140 0 0 1 1311 1575M1376 1532A173 165 0 0 1 1417 1535M1330 1549A165 157 0 0 1 1378 1540M1337 1550A161 153 0 0 1 1359 1545M1231 1619A175 166 0 0 1 1254 1587M1456 1550A169 161 0 0 1 1502 1580M1272 1664A119 113 0 0 1 1281 1644M1245 1716A142 135 0 0 1 1244 1683M1267 1665A123 117 0 0 1 1288 1625M1259 1598A164 156 0 0 1 1270 1586M1341 1533A177 168 0 0 1 1363 1529M1329 1576A139 132 0 0 1 1367 1566M1437 1579A134 128 0 0 1 1459 1589M1401 1570A134 127 0 0 1 1418 1573M1225 1696A160 152 0 0 1 1230 1661" stroke="#e2ccd6" stroke-width="1.6" opacity="0.7"/>
<path d="M1513 1582A175 166 0 0 1 1522 1592M1531 1600A177 168 0 0 1 1540 1615M1540 1685A155 147 0 0 1 1536 1732M1337 1809A128 122 0 0 1 1316 1798M1341 1834A152 144 0 0 1 1304 1818M1460 1844A172 164 0 0 1 1446 1850M1512 1804A170 161 0 0 1 1492 1821M1382 1815A125 119 0 0 1 1349 1810M1424 1857A173 165 0 0 1 1369 1860M1454 1823A149 142 0 0 1 1419 1835M1337 1811A130 123 0 0 1 1316 1801M1326 1841A163 155 0 0 1 1290 1822M1392 1812A122 116 0 0 1 1356 1809M1447 1593A125 119 0 0 1 1472 1611M1354 1802A115 109 0 0 1 1327 1791M1530 1715A146 139 0 0 1 1520 1751M1554 1663A172 163 0 0 1 1557 1691M1532 1663A151 143 0 0 1 1536 1698M1530 1726A148 141 0 0 1 1516 1762M1473 1584A147 140 0 0 1 1509 1621M1518 1723A136 129 0 0 1 1510 1748M1324 1850A173 164 0 0 1 1292 1835M1472 1593A139 132 0 0 1 1503 1627M1489 1762A124 118 0 0 1 1473 1780M1520 1692A134 127 0 0 1 1519 1710M1484 1754A115 110 0 0 1 1457 1783M1517 1619A155 147 0 0 1 1534 1655M1501 1712A116 111 0 0 1 1488 1749M1550 1746A172 164 0 0 1 1528 1788M1512 1764A145 138 0 0 1 1490 1792M1442 1855A177 168 0 0 1 1409 1863M1483 1816A160 152 0 0 1 1460 1830M1398 1851A163 155 0 0 1 1359 1850M1455 1545A174 165 0 0 1 1485 1561M1539 1683A154 146 0 0 1 1539 1701M1539 1729A158 150 0 0 1 1532 1750M1339 1797A116 110 0 0 1 1318 1786M1491 1641A121 115 0 0 1 1499 1659M1523 1603A169 160 0 0 1 1535 1623M1498 1734A119 113 0 0 1 1491 1750M1433 1817A135 128 0 0 1 1385 1825M1462 1556A167 158 0 0 1 1486 1570M1460 1554A168 159 0 0 1 1478 1564M1530 1703A145 137 0 0 1 1522 1742M1537 1744A159 151 0 0 1 1528 1764M1506 1656A128 122 0 0 1 1510 1668M1505 1601A156 148 0 0 1 1530 1642M1465 1570A155 147 0 0 1 1491 1589M1457 1569A152 144 0 0 1 1484 1586M1414 1802A115 109 0 0 1 1403 1804M1315 1826A154 146 0 0 1 1277 1799M1495 1760A128 122 0 0 1 1485 1773M1376 1824A135 128 0 0 1 1333 1815M1499 1700A114 108 0 0 1 1493 1733M1402 1813A124 118 0 0 1 1356 1811M1534 1693A149 141 0 0 1 1527 1738M1506 1618A146 139 0 0 1 1518 1638M1387 1813A123 117 0 0 1 1356 1810M1398 1846A158 150 0 0 1 1345 1841M1510 1711A125 119 0 0 1 1496 1752M1547 1706A162 154 0 0 1 1540 1744M1483 1621A126 119 0 0 1 1490 1631M1510 1641A137 131 0 0 1 1520 1670M1518 1587A175 167 0 0 1 1539 1617M1507 1807A169 160 0 0 1 1480 1829M1452 1556A162 154 0 0 1 1496 1583M1404 1845A157 149 0 0 1 1357 1843M1450 1601A119 113 0 0 1 1464 1611M1340 1828A146 138 0 0 1 1296 1806M1478 1795A140 133 0 0 1 1444 1817" stroke="#e2ccd6" stroke-width="1.6" opacity="0.65"/>
<path d="M1265 1632A130 117 35 0 1 1306 1652M1165 1699A89 80 35 0 1 1179 1682M1188 1834A111 100 35 0 1 1174 1823M1164 1809A107 96 35 0 1 1149 1787M1211 1821A86 77 35 0 1 1183 1802M1140 1713A105 95 35 0 1 1155 1684M1215 1838A102 92 35 0 1 1182 1820M1160 1667A114 102 35 0 1 1185 1650M1115 1768A132 119 35 0 1 1111 1730M1150 1696A103 93 35 0 1 1169 1673M1207 1833A100 90 35 0 1 1183 1819M1139 1682A120 108 35 0 1 1155 1663M1169 1825A116 105 35 0 1 1156 1813M1214 1655A101 91 35 0 1 1231 1654M1206 1823A90 81 35 0 1 1196 1817M1154 1698A98 88 35 0 1 1177 1672M1144 1761A101 91 35 0 1 1141 1742M1202 1658A100 90 35 0 1 1230 1655M1201 1827A97 88 35 0 1 1171 1804M1215 1637A119 107 35 0 1 1234 1636M1250 1646A111 100 35 0 1 1281 1656M1165 1840A131 118 35 0 1 1132 1803M1154 1746A88 79 35 0 1 1154 1736M1161 1652A124 112 35 0 1 1202 1634M1264 1637A124 112 35 0 1 1293 1650M1178 1633A133 120 35 0 1 1201 1626M1114 1762A132 119 35 0 1 1111 1745M1154 1732A89 80 35 0 1 1157 1717M1266 1632A130 117 35 0 1 1284 1639M1156 1714A90 81 35 0 1 1162 1701M1211 1645A111 100 35 0 1 1230 1644M1243 1650A105 95 35 0 1 1268 1657M1240 1653A102 91 35 0 1 1277 1664M1159 1649A129 116 35 0 1 1180 1637M1215 1638A119 107 35 0 1 1249 1639M1157 1783A96 87 35 0 1 1148 1761M1130 1692A123 110 35 0 1 1146 1668M1190 1849A125 113 35 0 1 1161 1829M1150 1701A101 91 35 0 1 1172 1673M1259 1662A97 87 35 0 1 1271 1666M1137 1701A112 101 35 0 1 1145 1686M1131 1726A112 101 35 0 1 1137 1702M1233 1858A120 108 35 0 1 1209 1852M1178 1841A123 111 35 0 1 1146 1811M1178 1676A95 85 35 0 1 1191 1668M1136 1744A107 96 35 0 1 1136 1731M1125 1721A119 107 35 0 1 1135 1689M1140 1697A111 100 35 0 1 1155 1675M1242 1656A99 89 35 0 1 1255 1658M1228 1629A128 115 35 0 1 1258 1632M1158 1657A123 110 35 0 1 1185 1641M1151 1777A99 89 35 0 1 1145 1756M1263 1660A100 90 35 0 1 1283 1669M1139 1745A104 93 35 0 1 1143 1709M1143 1699A108 97 35 0 1 1152 1684M1206 1831A98 89 35 0 1 1191 1822M1227 1657A98 88 35 0 1 1254 1659M1152 1732A90 81 35 0 1 1154 1720M1130 1736A112 101 35 0 1 1138 1698M1226 1657A97 88 35 0 1 1245 1658" stroke="#e2ccd6" stroke-width="1.6" opacity="0.6"/>
<path d="M1300 1825A161 153 0 0 1 1283 1814M1324 1536A180 171 0 0 1 1366 1527M1380 1809A119 113 0 0 1 1363 1808M1411 1847A160 152 0 0 1 1366 1848M1291 1798A143 135 0 0 1 1259 1759M1506 1708A121 115 0 0 1 1492 1751M1538 1643A162 154 0 0 1 1545 1667M1233 1611A177 168 0 0 1 1262 1576M1293 1562A169 161 0 0 1 1316 1549M1514 1729A134 127 0 0 1 1505 1752M1232 1771A173 164 0 0 1 1221 1748M1229 1627A173 164 0 0 1 1237 1612M1338 1839A158 150 0 0 1 1295 1819M1271 1828A179 170 0 0 1 1253 1811M1241 1767A163 155 0 0 1 1234 1753M1303 1582A146 139 0 0 1 1318 1573M1455 1817A145 138 0 0 1 1406 1833M1507 1700A122 116 0 0 1 1496 1745M1546 1728A164 156 0 0 1 1540 1749M1396 1549A155 148 0 0 1 1435 1556M1507 1603A156 149 0 0 1 1530 1640M1523 1670A140 133 0 0 1 1524 1713M1334 1583A130 123 0 0 1 1367 1574M1285 1792A142 135 0 0 1 1271 1777M1257 1650A138 131 0 0 1 1270 1625M1513 1656A134 127 0 0 1 1519 1695M1270 1704A116 110 0 0 1 1274 1668M1548 1735A167 159 0 0 1 1535 1768M1497 1615A140 133 0 0 1 1508 1632M1422 1574A133 127 0 0 1 1445 1583M1333 1854A174 165 0 0 1 1296 1838M1394 1588A114 109 0 0 1 1424 1594M1525 1623A159 151 0 0 1 1539 1657M1405 1532A174 165 0 0 1 1434 1538M1454 1555A164 156 0 0 1 1491 1577M1247 1680A140 133 0 0 1 1254 1652M1360 1805A118 112 0 0 1 1321 1790M1266 1780A148 141 0 0 1 1255 1763M1321 1575A143 136 0 0 1 1334 1570M1226 1645A168 160 0 0 1 1251 1600M1431 1832A150 143 0 0 1 1418 1836M1338 1855A174 165 0 0 1 1322 1850M1306 1604A125 119 0 0 1 1332 1589M1350 1804A118 112 0 0 1 1323 1792M1390 1544A160 152 0 0 1 1430 1550M1471 1806A143 136 0 0 1 1446 1820M1284 1836A179 170 0 0 1 1246 1804M1336 1576A136 129 0 0 1 1353 1571M1266 1720A122 116 0 0 1 1264 1699M1366 1535A171 163 0 0 1 1406 1535M1431 1581A130 123 0 0 1 1466 1600M1240 1745A154 146 0 0 1 1235 1725M1264 1648A131 125 0 0 1 1273 1632M1550 1763A179 170 0 0 1 1533 1791M1377 1825A136 129 0 0 1 1339 1818M1267 1663A123 117 0 0 1 1273 1647M1403 1855A168 159 0 0 1 1381 1856M1431 1582A129 122 0 0 1 1464 1599M1373 1542A163 155 0 0 1 1400 1542M1264 1737A129 122 0 0 1 1257 1707" stroke="#651540" stroke-width="2.2" opacity="0.4"/>
</g>
<path d="M1143.8 1668.1C1147.8 1662.5 1155.0 1658.8 1161.8 1655.2C1168.7 1651.6 1178.3 1647.0 1185.0 1646.2C1191.6 1645.4 1199.4 1646.5 1201.7 1650.6C1203.9 1654.7 1198.5 1664.3 1198.3 1670.6C1198.2 1677.0 1197.6 1683.1 1200.9 1688.6C1204.2 1694.2 1212.0 1696.8 1218.4 1704.0C1224.7 1711.3 1233.7 1725.0 1238.9 1732.3C1244.2 1739.6 1244.5 1742.6 1249.7 1747.7C1255.0 1752.9 1266.1 1757.6 1270.3 1763.2C1274.5 1768.7 1271.6 1773.9 1274.9 1781.2C1278.3 1788.4 1284.8 1799.6 1290.3 1806.9C1295.9 1814.1 1301.5 1820.1 1308.3 1824.9C1315.2 1829.6 1326.5 1832.1 1331.5 1835.1C1336.4 1838.1 1339.6 1839.8 1337.9 1842.8C1336.2 1845.8 1327.4 1850.9 1321.2 1853.1C1315.0 1855.4 1308.3 1857.4 1300.6 1856.2C1292.9 1855.0 1283.5 1851.1 1274.9 1845.9C1266.4 1840.8 1257.8 1832.6 1249.2 1825.4C1240.7 1818.1 1232.1 1809.5 1223.5 1802.2C1215.0 1794.9 1206.4 1788.6 1197.8 1781.7C1189.2 1774.7 1179.8 1768.4 1172.1 1760.6C1164.4 1752.8 1156.7 1743.5 1151.5 1734.9C1146.4 1726.3 1143.5 1716.9 1141.3 1709.2C1139.0 1701.5 1137.8 1695.5 1138.2 1688.6C1138.6 1681.8 1139.9 1673.6 1143.8 1668.1Z" fill="#d2d3d1"/>
<path d="M1364.9 1585.8C1371.7 1583.8 1391.4 1580.3 1403.4 1581.2C1415.4 1582.0 1427.0 1587.0 1436.9 1590.9C1446.7 1594.9 1454.0 1599.5 1462.6 1605.1C1471.1 1610.7 1483.3 1617.7 1488.3 1624.4C1493.2 1631.0 1493.4 1637.2 1492.1 1644.9C1490.8 1652.6 1484.4 1659.9 1480.6 1670.6C1476.7 1681.3 1470.6 1697.2 1469.0 1709.2C1467.4 1721.2 1469.9 1731.9 1470.8 1742.6C1471.6 1753.3 1475.0 1764.4 1474.1 1773.4C1473.3 1782.4 1469.7 1790.9 1465.6 1796.6C1461.6 1802.2 1455.8 1804.7 1449.7 1807.4C1443.6 1810.0 1436.9 1812.1 1429.1 1812.5C1421.4 1812.9 1408.6 1812.2 1403.4 1809.9C1398.3 1807.7 1402.6 1805.2 1398.3 1799.1C1394.0 1793.1 1383.3 1779.9 1377.7 1773.4C1372.2 1767.0 1370.0 1765.7 1364.9 1760.6C1359.7 1755.5 1353.3 1747.7 1346.9 1742.6C1340.5 1737.5 1332.8 1734.9 1326.3 1729.7C1319.9 1724.6 1313.5 1718.2 1308.3 1711.8C1303.2 1705.3 1297.2 1698.9 1295.5 1691.2C1293.8 1683.5 1296.7 1673.2 1298.1 1665.5C1299.4 1657.8 1300.7 1651.4 1303.7 1644.9C1306.7 1638.5 1311.4 1632.1 1316.1 1626.9C1320.7 1621.8 1325.5 1618.4 1331.5 1614.1C1337.5 1609.8 1346.9 1604.7 1352.0 1601.2C1357.2 1597.8 1360.2 1596.1 1362.3 1593.5C1364.5 1590.9 1358.0 1587.9 1364.9 1585.8Z" fill="#d2d3d1"/>
<path d="M1413.2 1642.4C1414.5 1638.8 1429.1 1628.6 1436.9 1624.4C1444.7 1620.1 1452.7 1617.5 1460.0 1616.7C1467.3 1615.8 1474.6 1616.7 1480.6 1619.2C1486.6 1621.8 1493.4 1626.9 1496.0 1632.1C1498.5 1637.2 1498.3 1646.4 1496.0 1650.1C1493.6 1653.7 1488.7 1651.9 1481.8 1653.9C1475.0 1656.0 1461.7 1661.8 1454.9 1662.4C1448.0 1663.0 1445.0 1660.0 1440.7 1657.3C1436.4 1654.5 1433.7 1648.4 1429.1 1646.0C1424.6 1643.5 1411.9 1646.0 1413.2 1642.4Z" fill="#93264e"/>
<path d="M1413.2 1642.4C1414.5 1638.8 1429.1 1628.6 1436.9 1624.4C1444.7 1620.1 1452.7 1617.5 1460.0 1616.7C1467.3 1615.8 1474.6 1616.7 1480.6 1619.2C1486.6 1621.8 1493.4 1626.9 1496.0 1632.1C1498.5 1637.2 1498.3 1646.4 1496.0 1650.1C1493.6 1653.7 1488.7 1651.9 1481.8 1653.9C1475.0 1656.0 1461.7 1661.8 1454.9 1662.4C1448.0 1663.0 1445.0 1660.0 1440.7 1657.3C1436.4 1654.5 1433.7 1648.4 1429.1 1646.0C1424.6 1643.5 1411.9 1646.0 1413.2 1642.4Z" fill="#caa2b6" filter="url(#tex3)" opacity="0.4"/>
<path d="M1410.6 1745.2C1414.5 1740.8 1426.9 1732.7 1434.3 1732.3C1441.7 1731.9 1448.8 1737.9 1454.9 1742.6C1460.9 1747.3 1467.8 1753.7 1470.8 1760.6C1473.8 1767.4 1477.6 1779.8 1472.8 1783.7C1468.0 1787.7 1450.6 1785.9 1442.0 1784.2C1433.4 1782.6 1426.6 1778.2 1421.4 1774.0C1416.3 1769.7 1413.0 1763.3 1411.2 1758.5C1409.4 1753.7 1406.8 1749.5 1410.6 1745.2Z" fill="#93264e"/>
<path d="M1410.6 1745.2C1414.5 1740.8 1426.9 1732.7 1434.3 1732.3C1441.7 1731.9 1448.8 1737.9 1454.9 1742.6C1460.9 1747.3 1467.8 1753.7 1470.8 1760.6C1473.8 1767.4 1477.6 1779.8 1472.8 1783.7C1468.0 1787.7 1450.6 1785.9 1442.0 1784.2C1433.4 1782.6 1426.6 1778.2 1421.4 1774.0C1416.3 1769.7 1413.0 1763.3 1411.2 1758.5C1409.4 1753.7 1406.8 1749.5 1410.6 1745.2Z" fill="#caa2b6" filter="url(#tex3)" opacity="0.4"/>
<path d="M1426.6 1642.4C1430.4 1640.6 1442.0 1634.2 1449.7 1632.1C1457.4 1629.9 1467.3 1628.2 1472.8 1629.5C1478.4 1630.8 1481.4 1638.1 1483.1 1639.8" stroke="#d6b6c4" stroke-width="2" fill="none" stroke-linecap="round"/>
<path d="M1233.8 1629.5C1234.7 1634.6 1236.8 1652.2 1238.9 1660.3C1241.1 1668.5 1245.4 1675.3 1246.7 1678.3" stroke="#e8e0e3" stroke-width="4" fill="none" stroke-linecap="round"/>
<path d="M1272.4 1585.8C1272.8 1589.7 1272.8 1601.7 1274.9 1608.9C1277.1 1616.2 1283.5 1626.1 1285.2 1629.5" stroke="#e8dde1" stroke-width="3" fill="none" stroke-linecap="round"/>
<path d="M1298.1 1567.8C1298.5 1570.8 1298.9 1580.2 1300.6 1585.8C1302.3 1591.4 1307.1 1598.7 1308.3 1601.2" stroke="#e8dde1" stroke-width="2.6" fill="none" stroke-linecap="round"/>
<path d="M1295.5 1765.7C1298.9 1767.0 1309.2 1770.9 1316.1 1773.4C1322.9 1776.0 1333.2 1779.9 1336.6 1781.2" stroke="#eadfe3" stroke-width="3" fill="none" stroke-linecap="round"/>
<path d="M1480.6 1691.2C1482.3 1693.3 1488.3 1699.3 1490.8 1704.0C1493.4 1708.8 1495.1 1716.9 1496.0 1719.5" stroke="#e8dde1" stroke-width="2.6" fill="none" stroke-linecap="round"/>
<path d="M1485.7 1670.6C1487.8 1672.8 1496.4 1681.3 1498.5 1683.5" stroke="#e8dde1" stroke-width="2.6" fill="none" stroke-linecap="round"/>
<path d="M1274.9 1734.9C1277.5 1736.2 1287.8 1741.3 1290.3 1742.6" stroke="#eadfe3" stroke-width="2.6" fill="none" stroke-linecap="round"/>
<circle cx="1205.5" cy="1621.8" r="3.5" fill="#4a62b0" opacity="0.75"/>
<circle cx="1215.8" cy="1629.5" r="3.0" fill="#4a62b0" opacity="0.75"/>
<circle cx="1197.8" cy="1644.9" r="2.6" fill="#4a62b0" opacity="0.75"/>
<circle cx="1416.3" cy="1642.4" r="2.6" fill="#4a62b0" opacity="0.75"/>
<circle cx="1496.0" cy="1768.3" r="3.0" fill="#4a62b0" opacity="0.75"/>
<circle cx="1480.6" cy="1786.3" r="3.0" fill="#4a62b0" opacity="0.75"/>
<circle cx="1285.2" cy="1794.0" r="2.6" fill="#4a62b0" opacity="0.75"/>
<circle cx="1460.0" cy="1552.4" r="2.6" fill="#4a62b0" opacity="0.75"/>
<circle cx="1254.4" cy="1598.7" r="2.6" fill="#4a62b0" opacity="0.75"/>
<circle cx="1398.3" cy="1573.0" r="2.2" fill="#4a62b0" opacity="0.75"/>
</g>
<rect x="1470.5" y="1894.5" width="75" height="20.5" fill="#000"/>
</g>
<g id="panel-g">
<text x="1602" y="1417" font-size="98" text-anchor="start" font-weight="bold" class="pl">g</text>
<rect x="1732.2" y="1394.2" width="77.1" height="76.6" fill="url(#gk)" stroke="#000" stroke-width="5.4"/>
<rect x="2000.2" y="1394.2" width="78.1" height="76.6" fill="url(#gr)" stroke="#000" stroke-width="5.4"/>
<text x="1850" y="1456.5" font-size="70" text-anchor="start" font-weight="bold">ctrl</text>
<text x="2117" y="1456.5" font-size="70" text-anchor="start" font-weight="bold"><tspan font-family='"DejaVu Serif", "Liberation Serif", serif' font-weight="normal" stroke="#000" stroke-width="0.56" font-size="66.5">α</tspan>4<tspan dy="-28.0" font-size="44.8" style="stroke:#000;stroke-width:1.2px">+</tspan></text>
<text x="1650" y="1702" font-size="70" text-anchor="middle" font-weight="bold" transform="rotate(-90 1650 1702)">mRNA to ctrl</text>
<line x1="1761.5" y1="1495" x2="1761.5" y2="1905.5" stroke="#000" stroke-width="4.4"/>
<line x1="1744" y1="1901.5" x2="2238" y2="1901.5" stroke="#000" stroke-width="4.4"/>
<line x1="1744" y1="1542" x2="1761.5" y2="1542" stroke="#000" stroke-width="4.4"/>
<text x="1728" y="1562" font-size="70" text-anchor="end" font-weight="bold">16</text>
<line x1="1744" y1="1633.5" x2="1761.5" y2="1633.5" stroke="#000" stroke-width="4.4"/>
<text x="1728" y="1653.5" font-size="70" text-anchor="end" font-weight="bold">12</text>
<line x1="1744" y1="1723" x2="1761.5" y2="1723" stroke="#000" stroke-width="4.4"/>
<text x="1728" y="1743" font-size="70" text-anchor="end" font-weight="bold">8</text>
<line x1="1744" y1="1811" x2="1761.5" y2="1811" stroke="#000" stroke-width="4.4"/>
<text x="1728" y="1831" font-size="70" text-anchor="end" font-weight="bold">4</text>
<text x="1728" y="1921.5" font-size="70" text-anchor="end" font-weight="bold">0</text>
<line x1="1878.5" y1="1514.5" x2="1878.5" y2="1900" stroke="#111" stroke-width="4.6" stroke-dasharray="27.5 23.5"/>
<line x1="1996.5" y1="1514.5" x2="1996.5" y2="1900" stroke="#111" stroke-width="4.6" stroke-dasharray="27.5 23.5"/>
<line x1="2114.5" y1="1514.5" x2="2114.5" y2="1900" stroke="#111" stroke-width="4.6" stroke-dasharray="27.5 23.5"/>
<rect x="1777.9" y="1879.0" width="39.7" height="22.5" fill="url(#gk)" stroke="#000" stroke-width="4.8"/>
<rect x="1827.4" y="1888.5" width="39.7" height="13.0" fill="url(#gr)" stroke="#000" stroke-width="4.8"/>
<rect x="1896.4" y="1879.0" width="39.7" height="22.5" fill="url(#gk)" stroke="#000" stroke-width="4.8"/>
<rect x="1944.9" y="1857.0" width="40.2" height="44.5" fill="url(#gr)" stroke="#000" stroke-width="4.8"/>
<rect x="2011.9" y="1879.0" width="41.7" height="22.5" fill="url(#gk)" stroke="#000" stroke-width="4.8"/>
<rect x="2062.9" y="1754.0" width="39.2" height="147.5" fill="url(#gr)" stroke="#000" stroke-width="4.8"/>
<rect x="2130.4" y="1879.0" width="39.7" height="22.5" fill="url(#gk)" stroke="#000" stroke-width="4.8"/>
<rect x="2178.9" y="1786.5" width="39.2" height="115.0" fill="url(#gr)" stroke="#000" stroke-width="4.8"/>
<line x1="2082.5" y1="1706.5" x2="2082.5" y2="1754" stroke="#000" stroke-width="4.6"/>
<line x1="2070.5" y1="1706.5" x2="2094.5" y2="1706.5" stroke="#000" stroke-width="4.6"/>
<line x1="2198" y1="1776" x2="2198" y2="1786.5" stroke="#000" stroke-width="4.6"/>
<line x1="2186" y1="1776" x2="2210" y2="1776" stroke="#000" stroke-width="4.6"/>
<line x1="1965" y1="1849" x2="1965" y2="1857" stroke="#000" stroke-width="4.6"/>
<line x1="1953" y1="1849" x2="1977" y2="1849" stroke="#000" stroke-width="4.6"/>
<circle cx="1797.0" cy="1877.0" r="4" fill="#000"/>
<circle cx="1801.0" cy="1881.0" r="4" fill="#000"/>
<circle cx="1794.0" cy="1883.0" r="4" fill="#000"/>
<circle cx="1799.0" cy="1886.0" r="4" fill="#000"/>
<circle cx="1841.0" cy="1884.0" r="4.2" fill="#f00"/>
<circle cx="1848.0" cy="1888.0" r="4.2" fill="#f00"/>
<circle cx="1844.0" cy="1893.0" r="4.2" fill="#f00"/>
<circle cx="1917.0" cy="1876.0" r="4" fill="#000"/>
<circle cx="1913.0" cy="1882.0" r="4" fill="#000"/>
<circle cx="1919.0" cy="1886.0" r="4" fill="#000"/>
<circle cx="1968.0" cy="1837.0" r="4.2" fill="#f00"/>
<circle cx="1961.0" cy="1852.0" r="4.2" fill="#f00"/>
<circle cx="1966.0" cy="1858.0" r="4.2" fill="#f00"/>
<circle cx="1962.0" cy="1884.0" r="4.2" fill="#f00"/>
<circle cx="2031.0" cy="1872.0" r="4.4" fill="#000"/>
<circle cx="2036.0" cy="1878.0" r="4.4" fill="#000"/>
<circle cx="2028.0" cy="1884.0" r="4.4" fill="#000"/>
<circle cx="2033.0" cy="1889.0" r="4.4" fill="#000"/>
<circle cx="2081.0" cy="1604.0" r="4.2" fill="#f00"/>
<circle cx="2085.0" cy="1686.0" r="4.2" fill="#f00"/>
<circle cx="2081.0" cy="1808.0" r="4.2" fill="#f00"/>
<circle cx="2076.0" cy="1824.0" r="4.2" fill="#f00"/>
<circle cx="2076.0" cy="1850.0" r="4.2" fill="#f00"/>
<circle cx="2152.0" cy="1877.0" r="4" fill="#000"/>
<circle cx="2157.0" cy="1883.0" r="4" fill="#000"/>
<circle cx="2150.0" cy="1887.0" r="4" fill="#000"/>
<circle cx="2198.0" cy="1762.0" r="4.2" fill="#f00"/>
<circle cx="2196.0" cy="1774.0" r="4.2" fill="#f00"/>
<circle cx="2202.0" cy="1780.0" r="4.2" fill="#f00"/>
<circle cx="2199.0" cy="1795.0" r="4.2" fill="#f00"/>
<circle cx="2203.0" cy="1826.0" r="4.2" fill="#f00"/>
<path d="M1801.5 1847.5 V1838.5 H1851 V1847.5" fill="none" stroke="#000" stroke-width="4.2"/>
<text x="1829.5" y="1848" font-size="58" text-anchor="middle" font-weight="bold" letter-spacing="5" style="stroke:#000;stroke-width:0.8px">**</text>
<path d="M1919.5 1809 V1799 H1967 V1809" fill="none" stroke="#000" stroke-width="4.2"/>
<text x="1945.5" y="1807" font-size="58" text-anchor="middle" font-weight="bold" letter-spacing="5" style="stroke:#000;stroke-width:0.8px">**</text>
<path d="M2035 1562.5 V1552.5 H2082 V1562.5" fill="none" stroke="#000" stroke-width="4.2"/>
<text x="2060.5" y="1562" font-size="58" text-anchor="middle" font-weight="bold" letter-spacing="5" style="stroke:#000;stroke-width:0.8px">**</text>
<path d="M2153 1732 V1723 H2203 V1732" fill="none" stroke="#000" stroke-width="4.2"/>
<text x="2180.5" y="1730" font-size="58" text-anchor="middle" font-weight="bold" letter-spacing="5" style="stroke:#000;stroke-width:0.8px">***</text>
<text x="1862" y="1952" font-size="70" text-anchor="end" font-weight="bold" transform="rotate(-45 1862 1952)"><tspan font-family='"DejaVu Serif", "Liberation Serif", serif' font-weight="normal" stroke="#000" stroke-width="0.56" font-size="66.5">α</tspan>-Mhc</text>
<text x="1980" y="1952" font-size="70" text-anchor="end" font-weight="bold" transform="rotate(-45 1980 1952)"><tspan font-family='"DejaVu Serif", "Liberation Serif", serif' font-weight="normal" stroke="#000" stroke-width="0.6" font-size="64">β</tspan>-Mhc</text>
<text x="2098" y="1952" font-size="70" text-anchor="end" font-weight="bold" transform="rotate(-45 2098 1952)">Anp</text>
<text x="2213" y="1952" font-size="70" text-anchor="end" font-weight="bold" transform="rotate(-45 2213 1952)">Bnp</text>
</g>
</svg></body></html>
